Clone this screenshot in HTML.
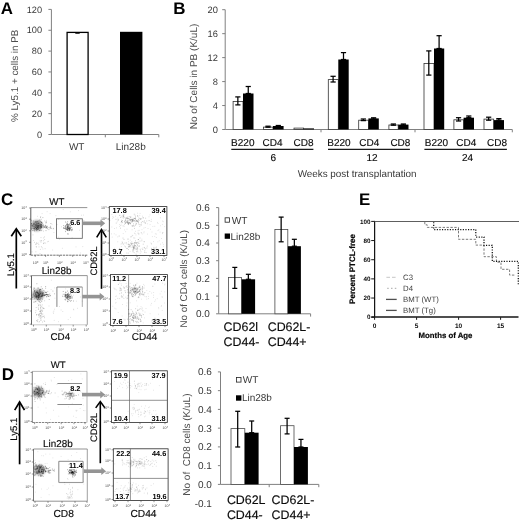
<!DOCTYPE html>
<html lang="en"><head><meta charset="utf-8"><title>Figure</title>
<style>
html,body{margin:0;padding:0;background:#fff;}
body{width:520px;height:520px;overflow:hidden;}
svg{display:block;font-family:"Liberation Sans", Arial, Helvetica, sans-serif;filter:grayscale(1) blur(0.45px);text-rendering:geometricPrecision;}
</style></head><body>
<svg width="520" height="520" viewBox="0 0 520 520">
<defs>
<clipPath id="c1"><rect x="30.8" y="207.6" width="56.5" height="47.6"/></clipPath>
<clipPath id="c2"><rect x="31.5" y="275.6" width="55.8" height="49.2"/></clipPath>
<clipPath id="d1"><rect x="32.3" y="371.4" width="54.7" height="51.1"/></clipPath>
<clipPath id="d2"><rect x="33.5" y="449" width="53.8" height="52.2"/></clipPath>
<filter id="bl0_8" x="-50%" y="-50%" width="200%" height="200%"><feGaussianBlur stdDeviation="0.8"/></filter>
<filter id="bl0_9" x="-50%" y="-50%" width="200%" height="200%"><feGaussianBlur stdDeviation="0.9"/></filter>
<filter id="bl1_0" x="-50%" y="-50%" width="200%" height="200%"><feGaussianBlur stdDeviation="1.0"/></filter>
<filter id="bl1_3" x="-50%" y="-50%" width="200%" height="200%"><feGaussianBlur stdDeviation="1.3"/></filter>
</defs>
<rect width="520" height="520" fill="#fff"/>
<text x="0.8" y="14.4" font-size="16.9" text-anchor="start" font-weight="bold" fill="#000" >A</text>
<line x1="51.4" y1="9.4" x2="51.4" y2="134.5" stroke="#808080" stroke-width="1" />
<line x1="48.4" y1="134.5" x2="51.4" y2="134.5" stroke="#808080" stroke-width="1" />
<text x="42.1" y="138" font-size="9.2" text-anchor="end" font-weight="normal" fill="#383838" >0</text>
<line x1="48.4" y1="113.65" x2="51.4" y2="113.65" stroke="#808080" stroke-width="1" />
<text x="42.1" y="117" font-size="9.2" text-anchor="end" font-weight="normal" fill="#383838" >20</text>
<line x1="48.4" y1="92.8" x2="51.4" y2="92.8" stroke="#808080" stroke-width="1" />
<text x="42.1" y="96" font-size="9.2" text-anchor="end" font-weight="normal" fill="#383838" >40</text>
<line x1="48.4" y1="71.95" x2="51.4" y2="71.95" stroke="#808080" stroke-width="1" />
<text x="42.1" y="75" font-size="9.2" text-anchor="end" font-weight="normal" fill="#383838" >60</text>
<line x1="48.4" y1="51.1" x2="51.4" y2="51.1" stroke="#808080" stroke-width="1" />
<text x="42.1" y="54" font-size="9.2" text-anchor="end" font-weight="normal" fill="#383838" >80</text>
<line x1="48.4" y1="30.25" x2="51.4" y2="30.25" stroke="#808080" stroke-width="1" />
<text x="42.1" y="33" font-size="9.2" text-anchor="end" font-weight="normal" fill="#383838" >100</text>
<line x1="48.4" y1="9.4" x2="51.4" y2="9.4" stroke="#808080" stroke-width="1" />
<text x="42.1" y="13" font-size="9.2" text-anchor="end" font-weight="normal" fill="#383838" >120</text>
<line x1="51.4" y1="134.5" x2="158.8" y2="134.5" stroke="#808080" stroke-width="1" />
<line x1="105.3" y1="134.5" x2="105.3" y2="137.3" stroke="#808080" stroke-width="1" />
<line x1="158.8" y1="134.5" x2="158.8" y2="137.3" stroke="#808080" stroke-width="1" />
<rect x="67.1" y="32.4" width="21" height="102.1" fill="#fff" stroke="#000" stroke-width="1.3" />
<line x1="75.3" y1="33.2" x2="79.7" y2="33.2" stroke="#000" stroke-width="1.1" />
<rect x="120" y="31.8" width="22.4" height="102.7" fill="#000" stroke="none" stroke-width="1" />
<text x="76.7" y="150" font-size="10" text-anchor="middle" font-weight="normal" fill="#383838" >WT</text>
<text x="130.7" y="150" font-size="10" text-anchor="middle" font-weight="normal" fill="#383838" >Lin28b</text>
<text x="18" y="75.8" font-size="9.85" text-anchor="middle" font-weight="normal" fill="#4d4d4d" transform="rotate(-90 18 75.8)" >% Ly5.1 + cells in PB</text>
<text x="173.3" y="14.4" font-size="16.9" text-anchor="start" font-weight="bold" fill="#000" >B</text>
<line x1="225.2" y1="9.7" x2="225.2" y2="129.5" stroke="#808080" stroke-width="1" />
<line x1="222.2" y1="129.5" x2="225.2" y2="129.5" stroke="#808080" stroke-width="1" />
<text x="217.9" y="133" font-size="9.3" text-anchor="end" font-weight="normal" fill="#383838" >0</text>
<line x1="222.2" y1="105.54" x2="225.2" y2="105.54" stroke="#808080" stroke-width="1" />
<text x="217.9" y="109" font-size="9.3" text-anchor="end" font-weight="normal" fill="#383838" >4</text>
<line x1="222.2" y1="81.58" x2="225.2" y2="81.58" stroke="#808080" stroke-width="1" />
<text x="217.9" y="85" font-size="9.3" text-anchor="end" font-weight="normal" fill="#383838" >8</text>
<line x1="222.2" y1="57.62" x2="225.2" y2="57.62" stroke="#808080" stroke-width="1" />
<text x="217.9" y="61" font-size="9.3" text-anchor="end" font-weight="normal" fill="#383838" >12</text>
<line x1="222.2" y1="33.66" x2="225.2" y2="33.66" stroke="#808080" stroke-width="1" />
<text x="217.9" y="37" font-size="9.3" text-anchor="end" font-weight="normal" fill="#383838" >16</text>
<line x1="222.2" y1="9.7" x2="225.2" y2="9.7" stroke="#808080" stroke-width="1" />
<text x="217.9" y="13" font-size="9.3" text-anchor="end" font-weight="normal" fill="#383838" >20</text>
<line x1="225.2" y1="129.5" x2="512.3" y2="129.5" stroke="#808080" stroke-width="1" />
<line x1="321" y1="129.5" x2="321" y2="132.3" stroke="#808080" stroke-width="1" />
<line x1="415" y1="129.5" x2="415" y2="132.3" stroke="#808080" stroke-width="1" />
<line x1="512.3" y1="129.5" x2="512.3" y2="132.3" stroke="#808080" stroke-width="1" />
<text x="197" y="76.5" font-size="10" text-anchor="middle" font-weight="normal" fill="#4d4d4d" transform="rotate(-90 197 76.5)" >No of Cells in PB (K/uL)</text>
<rect x="233.1" y="101.4" width="9.9" height="28.1" fill="#fff" stroke="#333" stroke-width="0.8" />
<rect x="243" y="93.5" width="10.5" height="36" fill="#000" stroke="none" stroke-width="1" />
<line x1="237.85" y1="96.9" x2="237.85" y2="104.9" stroke="#000" stroke-width="1.25" />
<line x1="235.25" y1="96.9" x2="240.45" y2="96.9" stroke="#000" stroke-width="1.25" />
<line x1="235.25" y1="104.9" x2="240.45" y2="104.9" stroke="#000" stroke-width="1.25" />
<line x1="248.25" y1="86.5" x2="248.25" y2="93.5" stroke="#000" stroke-width="1.25" />
<line x1="245.65" y1="86.5" x2="250.85" y2="86.5" stroke="#000" stroke-width="1.25" />
<line x1="245.65" y1="93.5" x2="250.85" y2="93.5" stroke="#000" stroke-width="1.25" />
<rect x="263.4" y="127.1" width="9.6" height="2.4" fill="#fff" stroke="#333" stroke-width="0.8" />
<rect x="273" y="126" width="10.6" height="3.5" fill="#000" stroke="none" stroke-width="1" />
<line x1="268" y1="126.2" x2="268" y2="127.2" stroke="#000" stroke-width="1.25" />
<line x1="265.4" y1="126.2" x2="270.6" y2="126.2" stroke="#000" stroke-width="1.25" />
<line x1="265.4" y1="127.2" x2="270.6" y2="127.2" stroke="#000" stroke-width="1.25" />
<line x1="278.3" y1="125.5" x2="278.3" y2="126.5" stroke="#000" stroke-width="1.25" />
<line x1="275.7" y1="125.5" x2="280.9" y2="125.5" stroke="#000" stroke-width="1.25" />
<line x1="275.7" y1="126.5" x2="280.9" y2="126.5" stroke="#000" stroke-width="1.25" />
<rect x="294" y="128.1" width="9.6" height="1.4" fill="#fff" stroke="#333" stroke-width="0.8" />
<rect x="303.6" y="128.4" width="10.4" height="1.1" fill="#000" stroke="none" stroke-width="1" />
<rect x="328.3" y="79.6" width="10" height="49.9" fill="#fff" stroke="#333" stroke-width="0.8" />
<rect x="338.3" y="59.5" width="10.4" height="70" fill="#000" stroke="none" stroke-width="1" />
<line x1="333.1" y1="76.3" x2="333.1" y2="82" stroke="#000" stroke-width="1.25" />
<line x1="330.5" y1="76.3" x2="335.7" y2="76.3" stroke="#000" stroke-width="1.25" />
<line x1="330.5" y1="82" x2="335.7" y2="82" stroke="#000" stroke-width="1.25" />
<line x1="343.5" y1="52.6" x2="343.5" y2="59.5" stroke="#000" stroke-width="1.25" />
<line x1="340.9" y1="52.6" x2="346.1" y2="52.6" stroke="#000" stroke-width="1.25" />
<line x1="340.9" y1="59.5" x2="346.1" y2="59.5" stroke="#000" stroke-width="1.25" />
<rect x="358.7" y="120.2" width="9.7" height="9.3" fill="#fff" stroke="#333" stroke-width="0.8" />
<rect x="368.4" y="118.4" width="10.4" height="11.1" fill="#000" stroke="none" stroke-width="1" />
<line x1="363.35" y1="119" x2="363.35" y2="120.6" stroke="#000" stroke-width="1.25" />
<line x1="360.75" y1="119" x2="365.95" y2="119" stroke="#000" stroke-width="1.25" />
<line x1="360.75" y1="120.6" x2="365.95" y2="120.6" stroke="#000" stroke-width="1.25" />
<line x1="373.6" y1="117.8" x2="373.6" y2="119" stroke="#000" stroke-width="1.25" />
<line x1="371" y1="117.8" x2="376.2" y2="117.8" stroke="#000" stroke-width="1.25" />
<line x1="371" y1="119" x2="376.2" y2="119" stroke="#000" stroke-width="1.25" />
<rect x="388.9" y="125" width="9.3" height="4.5" fill="#fff" stroke="#333" stroke-width="0.8" />
<rect x="398.2" y="124.6" width="10.3" height="4.9" fill="#000" stroke="none" stroke-width="1" />
<line x1="393.35" y1="124" x2="393.35" y2="125.2" stroke="#000" stroke-width="1.25" />
<line x1="390.75" y1="124" x2="395.95" y2="124" stroke="#000" stroke-width="1.25" />
<line x1="390.75" y1="125.2" x2="395.95" y2="125.2" stroke="#000" stroke-width="1.25" />
<line x1="403.35" y1="124" x2="403.35" y2="125" stroke="#000" stroke-width="1.25" />
<line x1="400.75" y1="124" x2="405.95" y2="124" stroke="#000" stroke-width="1.25" />
<line x1="400.75" y1="125" x2="405.95" y2="125" stroke="#000" stroke-width="1.25" />
<rect x="424" y="63.4" width="10" height="66.1" fill="#fff" stroke="#333" stroke-width="0.8" />
<rect x="434" y="48.5" width="10.2" height="81" fill="#000" stroke="none" stroke-width="1" />
<line x1="428.8" y1="50.9" x2="428.8" y2="75.1" stroke="#000" stroke-width="1.25" />
<line x1="426.2" y1="50.9" x2="431.4" y2="50.9" stroke="#000" stroke-width="1.25" />
<line x1="426.2" y1="75.1" x2="431.4" y2="75.1" stroke="#000" stroke-width="1.25" />
<line x1="439.1" y1="35.7" x2="439.1" y2="48.5" stroke="#000" stroke-width="1.25" />
<line x1="436.5" y1="35.7" x2="441.7" y2="35.7" stroke="#000" stroke-width="1.25" />
<line x1="436.5" y1="48.5" x2="441.7" y2="48.5" stroke="#000" stroke-width="1.25" />
<rect x="453.9" y="119.8" width="9.7" height="9.7" fill="#fff" stroke="#333" stroke-width="0.8" />
<rect x="463.6" y="117.7" width="10.4" height="11.8" fill="#000" stroke="none" stroke-width="1" />
<line x1="458.55" y1="117.7" x2="458.55" y2="121" stroke="#000" stroke-width="1.25" />
<line x1="455.95" y1="117.7" x2="461.15" y2="117.7" stroke="#000" stroke-width="1.25" />
<line x1="455.95" y1="121" x2="461.15" y2="121" stroke="#000" stroke-width="1.25" />
<line x1="468.8" y1="116" x2="468.8" y2="117.7" stroke="#000" stroke-width="1.25" />
<line x1="466.2" y1="116" x2="471.4" y2="116" stroke="#000" stroke-width="1.25" />
<line x1="466.2" y1="117.7" x2="471.4" y2="117.7" stroke="#000" stroke-width="1.25" />
<rect x="484" y="119.1" width="9.7" height="10.4" fill="#fff" stroke="#333" stroke-width="0.8" />
<rect x="493.7" y="120.1" width="10.3" height="9.4" fill="#000" stroke="none" stroke-width="1" />
<line x1="488.65" y1="117.2" x2="488.65" y2="120.2" stroke="#000" stroke-width="1.25" />
<line x1="486.05" y1="117.2" x2="491.25" y2="117.2" stroke="#000" stroke-width="1.25" />
<line x1="486.05" y1="120.2" x2="491.25" y2="120.2" stroke="#000" stroke-width="1.25" />
<line x1="498.85" y1="118.6" x2="498.85" y2="120.1" stroke="#000" stroke-width="1.25" />
<line x1="496.25" y1="118.6" x2="501.45" y2="118.6" stroke="#000" stroke-width="1.25" />
<line x1="496.25" y1="120.1" x2="501.45" y2="120.1" stroke="#000" stroke-width="1.25" />
<text x="242.8" y="146" font-size="10" text-anchor="middle" font-weight="normal" fill="#0a0a0a" stroke="#111" stroke-width="0.16">B220</text>
<text x="272.6" y="146" font-size="10" text-anchor="middle" font-weight="normal" fill="#0a0a0a" stroke="#111" stroke-width="0.16">CD4</text>
<text x="303.6" y="146" font-size="10" text-anchor="middle" font-weight="normal" fill="#0a0a0a" stroke="#111" stroke-width="0.16">CD8</text>
<text x="339" y="146" font-size="10" text-anchor="middle" font-weight="normal" fill="#0a0a0a" stroke="#111" stroke-width="0.16">B220</text>
<text x="369.3" y="146" font-size="10" text-anchor="middle" font-weight="normal" fill="#0a0a0a" stroke="#111" stroke-width="0.16">CD4</text>
<text x="400.4" y="146" font-size="10" text-anchor="middle" font-weight="normal" fill="#0a0a0a" stroke="#111" stroke-width="0.16">CD8</text>
<text x="436.4" y="146" font-size="10" text-anchor="middle" font-weight="normal" fill="#0a0a0a" stroke="#111" stroke-width="0.16">B220</text>
<text x="466.3" y="146" font-size="10" text-anchor="middle" font-weight="normal" fill="#0a0a0a" stroke="#111" stroke-width="0.16">CD4</text>
<text x="497" y="146" font-size="10" text-anchor="middle" font-weight="normal" fill="#0a0a0a" stroke="#111" stroke-width="0.16">CD8</text>
<line x1="231.3" y1="149.3" x2="313.4" y2="149.3" stroke="#1a1a1a" stroke-width="1.2" />
<line x1="328" y1="149.3" x2="409.9" y2="149.3" stroke="#1a1a1a" stroke-width="1.2" />
<line x1="424.4" y1="149.3" x2="506.9" y2="149.3" stroke="#1a1a1a" stroke-width="1.2" />
<text x="273.4" y="161" font-size="10" text-anchor="middle" font-weight="normal" fill="#0a0a0a" stroke="#111" stroke-width="0.16">6</text>
<text x="372" y="161" font-size="10" text-anchor="middle" font-weight="normal" fill="#0a0a0a" stroke="#111" stroke-width="0.16">12</text>
<text x="467.5" y="161" font-size="10" text-anchor="middle" font-weight="normal" fill="#0a0a0a" stroke="#111" stroke-width="0.16">24</text>
<text x="357.1" y="177" font-size="9.9" text-anchor="middle" font-weight="normal" fill="#383838" >Weeks post transplantation</text>
<text x="1" y="204.7" font-size="16.9" text-anchor="start" font-weight="bold" fill="#000" >C</text>
<text x="56.8" y="205" font-size="9.7" text-anchor="middle" font-weight="normal" fill="#0a0a0a" stroke="#111" stroke-width="0.16">WT</text>
<line x1="30.8" y1="207.6" x2="87.3" y2="207.6" stroke="#666" stroke-width="0.7" />
<line x1="30.8" y1="207.6" x2="30.8" y2="255.2" stroke="#484848" stroke-width="0.9" />
<line x1="30.8" y1="255.2" x2="87.3" y2="255.2" stroke="#5a5a5a" stroke-width="0.85" stroke-dasharray="2.4 0.8"/>
<text x="26.8" y="209.2" font-size="3.6" text-anchor="end" fill="#4a4a4a">10<tspan dy="-1.2" font-size="2.8">4</tspan></text>
<line x1="29.1" y1="208" x2="30.8" y2="208" stroke="#4a4a4a" stroke-width="0.6" />
<text x="26.8" y="220.4" font-size="3.6" text-anchor="end" fill="#4a4a4a">10<tspan dy="-1.2" font-size="2.8">3</tspan></text>
<line x1="29.1" y1="219.2" x2="30.8" y2="219.2" stroke="#4a4a4a" stroke-width="0.6" />
<text x="26.8" y="232" font-size="3.6" text-anchor="end" fill="#4a4a4a">10<tspan dy="-1.2" font-size="2.8">2</tspan></text>
<line x1="29.1" y1="230.8" x2="30.8" y2="230.8" stroke="#4a4a4a" stroke-width="0.6" />
<text x="26.8" y="243.5" font-size="3.6" text-anchor="end" fill="#4a4a4a">10<tspan dy="-1.2" font-size="2.8">1</tspan></text>
<line x1="29.1" y1="242.3" x2="30.8" y2="242.3" stroke="#4a4a4a" stroke-width="0.6" />
<text x="26.8" y="255.8" font-size="3.6" text-anchor="end" fill="#4a4a4a">10<tspan dy="-1.2" font-size="2.8">0</tspan></text>
<line x1="29.1" y1="254.6" x2="30.8" y2="254.6" stroke="#4a4a4a" stroke-width="0.6" />
<text x="35.5" y="264.4" font-size="3.6" text-anchor="middle" fill="#4a4a4a">10<tspan dy="-1.2" font-size="2.8">0</tspan></text>
<line x1="35.2" y1="255.2" x2="35.2" y2="256.9" stroke="#4a4a4a" stroke-width="0.6" />
<text x="45.9" y="264.4" font-size="3.6" text-anchor="middle" fill="#4a4a4a">10<tspan dy="-1.2" font-size="2.8">1</tspan></text>
<line x1="45.6" y1="255.2" x2="45.6" y2="256.9" stroke="#4a4a4a" stroke-width="0.6" />
<text x="59.7" y="264.4" font-size="3.6" text-anchor="middle" fill="#4a4a4a">10<tspan dy="-1.2" font-size="2.8">2</tspan></text>
<line x1="59.4" y1="255.2" x2="59.4" y2="256.9" stroke="#4a4a4a" stroke-width="0.6" />
<text x="73" y="264.4" font-size="3.6" text-anchor="middle" fill="#4a4a4a">10<tspan dy="-1.2" font-size="2.8">3</tspan></text>
<line x1="72.7" y1="255.2" x2="72.7" y2="256.9" stroke="#4a4a4a" stroke-width="0.6" />
<text x="85.7" y="264.4" font-size="3.6" text-anchor="middle" fill="#4a4a4a">10<tspan dy="-1.2" font-size="2.8">4</tspan></text>
<line x1="85.4" y1="255.2" x2="85.4" y2="256.9" stroke="#4a4a4a" stroke-width="0.6" />
<rect x="56.5" y="218.8" width="25.8" height="19.5" fill="none" stroke="#5a5a5a" stroke-width="0.8" />
<g clip-path="url(#c1)"><ellipse cx="36.8" cy="225.6" rx="5.8" ry="5.6" fill="#000" fill-opacity="0.37" filter="url(#bl1_3)"/></g>
<path d="M36.0 227.2h0M33.7 224.9h0M40.2 226.4h0M31.3 228.3h0M31.2 220.2h0M37.8 225.5h0M37.8 226.8h0M38.6 229.3h0M35.7 225.3h0M35.3 222.6h0M34.1 226.4h0M37.0 229.6h0M38.4 225.4h0M39.0 228.5h0M37.2 221.6h0M35.3 221.7h0M41.1 219.3h0M41.6 227.4h0M33.1 228.6h0M37.6 226.9h0M38.5 227.3h0M40.0 227.2h0M36.2 228.8h0M38.6 225.1h0M37.2 229.2h0M40.2 225.7h0M41.6 224.2h0M36.3 224.7h0M41.0 221.7h0M40.5 228.3h0M37.3 227.4h0M38.7 225.6h0M43.4 226.6h0M36.8 228.5h0M42.9 217.6h0M38.1 226.3h0M37.7 224.0h0M35.0 225.3h0M40.1 222.0h0M39.6 230.2h0M40.4 217.3h0M39.1 221.0h0M36.3 226.2h0M36.5 230.4h0M45.9 222.0h0M37.2 227.8h0M31.8 220.9h0M33.4 221.0h0M41.7 222.7h0M39.3 230.5h0M40.1 225.0h0M38.1 226.9h0M40.5 230.2h0M34.3 228.8h0M41.5 224.8h0M36.8 228.2h0M36.6 228.8h0M34.6 228.3h0M36.2 225.5h0M42.7 225.7h0M36.1 221.7h0M31.4 223.7h0M36.8 228.1h0M31.6 223.6h0M33.8 223.2h0" stroke="#000" stroke-opacity="0.32" stroke-width="1.00" stroke-linecap="round" fill="none"/>
<path d="M36.1 224.6h0M40.5 226.9h0M38.1 226.2h0M38.5 227.1h0M33.9 224.1h0M38.5 223.6h0M34.6 230.9h0M34.8 223.3h0M38.9 226.4h0M35.1 229.4h0M38.2 221.0h0M36.4 223.1h0M32.0 228.2h0M41.6 226.7h0M38.8 223.7h0M33.6 224.0h0M32.0 226.3h0M38.0 223.3h0M40.4 226.1h0M42.1 227.5h0M31.6 229.6h0M39.6 220.0h0M32.5 230.6h0M37.9 227.6h0M34.6 224.3h0M33.9 228.5h0M32.2 225.2h0M41.4 222.4h0M34.2 227.6h0M37.9 226.0h0M36.2 226.5h0M39.3 227.4h0M35.4 224.4h0M35.7 226.8h0M33.1 226.4h0M35.4 227.6h0M44.8 226.7h0M36.1 225.4h0M36.6 228.6h0M35.7 227.5h0M40.4 221.1h0M37.4 229.3h0M39.4 226.0h0M40.3 224.7h0M39.8 224.8h0M37.5 227.6h0M38.8 222.6h0M41.0 227.9h0M36.8 222.1h0M33.9 230.4h0M36.5 223.7h0M41.7 222.4h0M41.6 225.0h0M37.2 226.0h0M37.8 223.7h0M37.1 229.7h0M41.7 230.6h0M32.7 225.6h0M34.8 226.3h0M38.6 228.7h0M35.0 228.9h0M40.1 228.1h0M37.3 221.9h0M39.8 223.8h0M31.7 225.2h0" stroke="#000" stroke-opacity="0.32" stroke-width="1.00" stroke-linecap="round" fill="none"/>
<path d="M40.6 227.1h0M42.4 223.2h0M37.1 225.0h0M47.1 227.8h0M48.9 227.6h0M47.5 228.7h0M50.9 223.5h0M41.4 227.7h0M46.4 228.0h0M45.5 227.9h0M41.1 225.9h0M41.7 225.1h0M46.6 222.1h0M50.1 227.2h0M38.1 228.3h0M48.9 229.6h0M45.5 226.8h0M51.5 228.3h0M50.1 228.2h0M41.6 226.9h0M44.3 227.4h0M46.0 227.1h0M43.4 227.8h0" stroke="#000" stroke-opacity="0.35" stroke-width="0.90" stroke-linecap="round" fill="none"/>
<path d="M36.7 227.1h0M46.9 226.0h0M45.5 225.7h0M46.7 227.1h0M46.0 223.0h0M43.5 225.7h0M46.0 230.6h0M50.7 226.3h0M41.5 226.3h0M44.4 226.2h0M47.4 226.7h0M53.3 228.4h0M46.6 227.3h0M44.3 227.4h0M45.6 225.3h0M39.9 225.4h0M43.2 224.8h0M40.6 224.2h0M50.5 227.9h0M37.4 225.2h0M42.1 226.3h0M46.6 226.9h0" stroke="#000" stroke-opacity="0.35" stroke-width="0.90" stroke-linecap="round" fill="none"/>
<g><ellipse cx="68.1" cy="228" rx="2" ry="1.8" fill="#000" fill-opacity="0.38" filter="url(#bl0_9)"/></g>
<path d="M68.2 226.1h0M67.8 228.4h0M67.8 225.1h0M69.1 227.6h0M63.5 228.1h0M65.5 222.0h0M67.2 224.9h0M69.3 228.4h0M68.0 229.4h0M70.6 225.5h0M67.4 230.5h0M67.6 233.9h0M68.3 234.0h0M70.5 228.0h0M69.0 230.6h0M70.1 229.2h0M67.5 229.6h0M68.1 224.6h0M66.5 229.3h0M67.5 224.7h0M70.7 226.0h0M70.0 230.2h0M69.6 223.9h0M66.6 224.8h0M69.6 229.6h0M65.0 226.8h0M67.9 228.0h0M65.1 227.9h0M67.9 226.3h0M67.9 226.5h0M65.7 228.1h0M68.5 224.8h0M69.2 229.4h0M67.8 227.8h0M66.4 224.9h0" stroke="#000" stroke-opacity="0.42" stroke-width="0.90" stroke-linecap="round" fill="none"/>
<path d="M66.6 228.0h0M68.1 228.4h0M69.1 230.4h0M69.2 225.8h0M65.9 229.7h0M65.6 231.6h0M66.3 229.2h0M71.7 229.6h0M72.1 230.2h0M67.7 229.7h0M69.5 230.1h0M71.1 227.5h0M67.3 230.0h0M65.3 228.4h0M70.0 228.1h0M68.6 228.1h0M65.6 226.6h0M67.1 223.4h0M69.5 227.9h0M72.5 229.2h0M67.7 223.8h0M63.5 227.9h0M63.7 225.6h0M68.2 228.6h0M71.7 230.7h0M65.6 225.5h0M69.3 224.4h0M67.6 227.3h0M69.8 228.8h0M67.7 221.7h0M64.5 228.5h0M67.5 227.3h0M68.0 226.0h0M69.9 228.7h0M67.2 226.3h0" stroke="#000" stroke-opacity="0.42" stroke-width="0.90" stroke-linecap="round" fill="none"/>
<path d="M34.6 242.4h0M41.1 240.9h0M43.4 243.6h0M36.0 244.2h0M40.3 249.4h0M41.0 242.2h0M43.7 237.9h0M38.1 243.1h0M35.8 244.3h0M35.9 251.8h0M40.1 240.9h0M41.7 240.6h0M44.3 242.9h0M38.8 244.6h0M36.9 254.4h0M36.4 242.8h0M44.5 236.9h0M43.7 240.7h0" stroke="#000" stroke-opacity="0.22" stroke-width="0.84" stroke-linecap="round" fill="none"/>
<path d="M37.0 243.5h0M48.3 241.4h0M43.5 231.1h0M41.4 254.7h0M42.1 247.7h0M41.0 237.6h0M40.0 253.6h0M43.7 243.1h0M41.3 246.6h0M45.7 243.1h0M44.7 239.5h0M36.2 246.6h0M36.3 247.1h0M45.1 248.7h0M39.0 246.9h0M32.0 251.9h0M33.0 234.9h0" stroke="#000" stroke-opacity="0.22" stroke-width="0.84" stroke-linecap="round" fill="none"/>
<path d="M70.3 211.8h0M71.0 229.3h0M72.1 237.7h0M47.1 211.7h0M81.4 215.2h0M57.1 224.6h0M47.7 241.8h0M84.0 220.9h0M66.9 222.7h0M61.6 226.8h0M40.8 216.6h0M42.9 249.1h0M58.4 219.2h0M80.3 253.0h0M55.9 215.7h0M42.1 213.6h0M50.1 213.6h0M44.6 220.9h0M62.3 248.3h0M71.9 227.6h0M53.9 232.5h0M52.0 224.3h0M35.1 221.7h0M83.6 215.1h0M58.7 237.1h0M78.0 219.0h0M46.3 220.4h0M53.2 229.0h0M82.8 246.6h0M78.5 210.6h0M33.5 240.5h0M79.7 230.2h0M63.2 209.6h0M52.7 250.0h0M76.0 246.9h0M83.8 220.4h0M37.6 216.3h0M59.7 239.3h0" stroke="#000" stroke-opacity="0.18" stroke-width="0.80" stroke-linecap="round" fill="none"/>
<text x="70.2" y="225" font-size="7.3" text-anchor="start" font-weight="bold" fill="#000" >6.6</text>
<text x="56.6" y="274" font-size="9.9" text-anchor="middle" font-weight="normal" fill="#0a0a0a" stroke="#111" stroke-width="0.16">Lin28b</text>
<line x1="31.5" y1="275.6" x2="87.3" y2="275.6" stroke="#666" stroke-width="0.7" />
<line x1="31.5" y1="275.6" x2="31.5" y2="324.8" stroke="#555" stroke-width="0.9" />
<line x1="87.3" y1="275.6" x2="87.3" y2="324.8" stroke="#777" stroke-width="0.7" />
<line x1="31.5" y1="324.8" x2="87.3" y2="324.8" stroke="#b5b5b5" stroke-width="0.7" />
<text x="28.8" y="277.2" font-size="3.6" text-anchor="end" fill="#4a4a4a">10<tspan dy="-1.2" font-size="2.8">4</tspan></text>
<line x1="29.8" y1="276" x2="31.5" y2="276" stroke="#4a4a4a" stroke-width="0.6" />
<text x="28.8" y="288.2" font-size="3.6" text-anchor="end" fill="#4a4a4a">10<tspan dy="-1.2" font-size="2.8">3</tspan></text>
<line x1="29.8" y1="287" x2="31.5" y2="287" stroke="#4a4a4a" stroke-width="0.6" />
<text x="28.8" y="300.2" font-size="3.6" text-anchor="end" fill="#4a4a4a">10<tspan dy="-1.2" font-size="2.8">2</tspan></text>
<line x1="29.8" y1="299" x2="31.5" y2="299" stroke="#4a4a4a" stroke-width="0.6" />
<text x="28.8" y="312.2" font-size="3.6" text-anchor="end" fill="#4a4a4a">10<tspan dy="-1.2" font-size="2.8">1</tspan></text>
<line x1="29.8" y1="311" x2="31.5" y2="311" stroke="#4a4a4a" stroke-width="0.6" />
<text x="28.8" y="325.4" font-size="3.6" text-anchor="end" fill="#4a4a4a">10<tspan dy="-1.2" font-size="2.8">0</tspan></text>
<line x1="29.8" y1="324.2" x2="31.5" y2="324.2" stroke="#4a4a4a" stroke-width="0.6" />
<text x="33.8" y="331.4" font-size="3.6" text-anchor="middle" fill="#4a4a4a">10<tspan dy="-1.2" font-size="2.8">0</tspan></text>
<line x1="33.5" y1="324.8" x2="33.5" y2="326.5" stroke="#4a4a4a" stroke-width="0.6" />
<text x="46.6" y="331.4" font-size="3.6" text-anchor="middle" fill="#4a4a4a">10<tspan dy="-1.2" font-size="2.8">1</tspan></text>
<line x1="46.3" y1="324.8" x2="46.3" y2="326.5" stroke="#4a4a4a" stroke-width="0.6" />
<text x="61" y="331.4" font-size="3.6" text-anchor="middle" fill="#4a4a4a">10<tspan dy="-1.2" font-size="2.8">2</tspan></text>
<line x1="60.7" y1="324.8" x2="60.7" y2="326.5" stroke="#4a4a4a" stroke-width="0.6" />
<text x="73.5" y="331.4" font-size="3.6" text-anchor="middle" fill="#4a4a4a">10<tspan dy="-1.2" font-size="2.8">3</tspan></text>
<line x1="73.2" y1="324.8" x2="73.2" y2="326.5" stroke="#4a4a4a" stroke-width="0.6" />
<text x="86.5" y="331.4" font-size="3.6" text-anchor="middle" fill="#4a4a4a">10<tspan dy="-1.2" font-size="2.8">4</tspan></text>
<line x1="86.2" y1="324.8" x2="86.2" y2="326.5" stroke="#4a4a4a" stroke-width="0.6" />
<polyline points="56.9,306.9 56.9,287 82.3,287" fill="none" stroke="#666" stroke-width="0.8" />
<line x1="82.3" y1="287" x2="82.3" y2="306.9" stroke="#999" stroke-width="0.8" />
<g clip-path="url(#c2)"><ellipse cx="38.2" cy="294.4" rx="6" ry="5.5" fill="#000" fill-opacity="0.37" filter="url(#bl1_3)"/></g>
<path d="M43.3 292.6h0M34.0 295.4h0M39.0 301.3h0M40.0 296.1h0M39.2 295.2h0M36.4 295.8h0M37.0 297.7h0M41.1 292.1h0M43.3 293.2h0M33.1 294.4h0M34.4 288.3h0M36.3 297.2h0M39.8 289.5h0M41.1 293.9h0M39.2 299.6h0M36.0 294.5h0M34.0 287.9h0M40.3 302.6h0M41.4 295.5h0M36.9 283.7h0M41.3 301.1h0M36.5 291.8h0M38.3 294.6h0M39.9 294.0h0M34.3 298.9h0M41.9 295.5h0M39.3 297.2h0M32.9 297.4h0M39.4 294.6h0M38.1 287.8h0M42.7 293.3h0M37.1 296.7h0M42.4 292.2h0M38.6 297.9h0M36.2 295.9h0M40.1 293.5h0M40.8 289.6h0M36.8 297.1h0M40.0 299.3h0M42.4 295.2h0M45.7 288.2h0M41.5 296.5h0M38.6 297.6h0M38.1 288.4h0M39.7 292.2h0M38.0 292.3h0M42.2 299.7h0M35.7 294.3h0M39.8 294.3h0M42.3 288.6h0M39.8 295.8h0M41.2 293.1h0M37.8 299.8h0M34.3 292.0h0M39.6 296.0h0M36.9 292.7h0M37.3 292.6h0M39.4 290.7h0M34.8 296.8h0M40.9 298.5h0M35.2 301.6h0M36.0 296.9h0M36.7 296.0h0M45.5 294.6h0M32.3 298.0h0M42.5 294.8h0M42.2 296.7h0M39.9 296.4h0M41.2 286.8h0" stroke="#000" stroke-opacity="0.32" stroke-width="1.00" stroke-linecap="round" fill="none"/>
<path d="M34.7 290.2h0M44.0 295.7h0M36.4 292.3h0M34.7 290.8h0M33.8 293.8h0M37.8 294.1h0M42.9 293.3h0M38.4 296.7h0M37.9 295.0h0M35.9 295.6h0M38.3 295.2h0M37.3 292.5h0M35.9 294.3h0M39.2 292.4h0M35.9 301.7h0M38.8 297.6h0M40.3 296.9h0M38.9 295.2h0M43.9 290.6h0M41.0 293.2h0M38.2 293.6h0M36.1 296.4h0M37.6 297.2h0M40.5 293.9h0M39.8 291.4h0M32.9 299.4h0M38.9 293.9h0M38.3 293.5h0M40.5 293.2h0M36.8 296.5h0M37.8 299.3h0M43.9 294.5h0M38.9 294.2h0M46.3 292.3h0M34.6 295.9h0M40.0 289.6h0M35.8 292.7h0M38.5 293.2h0M38.2 295.5h0M33.8 302.1h0M38.1 295.7h0M37.3 291.1h0M34.5 291.2h0M37.3 293.0h0M35.2 293.2h0M38.2 296.7h0M35.5 293.1h0M40.0 290.2h0M32.0 295.3h0M40.9 295.0h0M42.6 293.7h0M40.7 291.9h0M39.7 293.9h0M38.9 297.3h0M38.1 298.6h0M41.2 294.6h0M37.3 296.3h0M39.6 295.0h0M37.2 293.4h0M35.9 295.8h0M36.5 298.1h0M45.7 286.5h0M37.9 292.3h0M32.6 297.0h0M36.2 294.8h0M33.5 289.1h0M35.4 297.1h0M41.3 296.7h0M38.8 295.9h0" stroke="#000" stroke-opacity="0.32" stroke-width="1.00" stroke-linecap="round" fill="none"/>
<path d="M54.4 293.8h0M48.9 294.6h0M46.9 294.5h0M40.7 297.0h0M46.7 296.9h0M47.8 296.1h0M50.1 295.8h0M46.9 294.6h0M44.0 294.3h0M41.7 296.4h0M50.5 295.6h0M46.5 292.5h0M44.5 295.4h0M49.0 296.2h0M45.1 294.8h0M44.9 295.3h0M47.7 295.0h0M45.3 292.4h0M37.7 295.5h0M47.8 291.7h0M46.1 294.4h0M46.7 294.5h0M46.7 296.5h0" stroke="#000" stroke-opacity="0.33" stroke-width="0.90" stroke-linecap="round" fill="none"/>
<path d="M44.9 295.4h0M49.8 294.0h0M46.5 294.2h0M47.0 294.4h0M42.8 295.1h0M44.9 291.9h0M46.0 294.9h0M42.6 294.1h0M42.2 296.3h0M42.7 295.9h0M43.6 295.4h0M44.0 295.6h0M48.4 296.5h0M45.0 295.3h0M45.4 292.5h0M42.8 295.3h0M52.9 291.1h0M49.2 299.5h0M47.7 294.8h0M48.8 295.9h0M48.1 294.5h0M38.6 295.2h0" stroke="#000" stroke-opacity="0.33" stroke-width="0.90" stroke-linecap="round" fill="none"/>
<g><ellipse cx="67.6" cy="296.6" rx="2" ry="1.8" fill="#000" fill-opacity="0.36" filter="url(#bl0_9)"/></g>
<path d="M65.5 296.5h0M70.6 301.2h0M69.7 300.1h0M66.1 295.0h0M63.2 294.3h0M66.0 294.9h0M70.7 296.4h0M66.2 297.1h0M68.4 295.0h0M64.6 294.9h0M68.9 296.9h0M62.5 296.2h0M67.3 296.2h0M69.4 297.9h0M66.2 295.8h0M71.3 300.6h0M70.4 298.5h0M66.1 297.6h0M65.5 295.8h0M71.2 295.2h0M70.4 297.4h0M71.5 298.0h0M68.8 296.1h0M64.2 296.5h0M66.9 298.4h0M68.4 293.0h0M67.5 294.0h0M67.8 297.7h0M65.6 299.9h0M67.1 294.8h0M68.3 293.9h0M69.2 296.3h0M67.5 298.3h0M67.5 294.6h0M68.0 301.6h0" stroke="#000" stroke-opacity="0.4" stroke-width="0.90" stroke-linecap="round" fill="none"/>
<path d="M69.1 296.9h0M65.4 292.2h0M69.8 298.5h0M69.7 294.5h0M73.6 301.0h0M68.2 294.9h0M65.0 299.6h0M67.6 295.9h0M63.2 291.5h0M67.5 296.7h0M65.7 295.0h0M68.8 297.8h0M69.8 296.6h0M68.1 299.6h0M65.7 294.8h0M67.7 297.9h0M70.5 293.7h0M71.0 296.8h0M66.0 294.6h0M67.6 301.6h0M66.1 297.5h0M70.6 296.8h0M68.6 299.6h0M68.2 295.3h0M72.4 298.0h0M72.2 296.8h0M67.5 294.1h0M67.7 297.2h0M66.0 292.4h0M65.2 295.8h0M67.3 299.9h0M67.9 296.3h0M67.4 291.1h0M69.2 295.2h0M65.1 294.0h0" stroke="#000" stroke-opacity="0.4" stroke-width="0.90" stroke-linecap="round" fill="none"/>
<path d="M36.8 292.0h0M38.5 296.0h0M38.2 307.2h0M44.5 317.7h0M44.1 320.7h0M40.7 310.4h0M38.8 298.4h0M37.2 320.5h0M44.2 316.1h0M41.2 313.2h0M42.4 298.8h0M38.7 305.5h0M40.1 304.9h0M41.8 310.8h0M38.6 314.9h0M41.9 301.6h0M36.4 315.0h0M38.4 308.8h0M40.6 305.9h0M40.5 289.4h0M35.9 310.7h0M37.5 321.6h0M39.2 301.6h0M43.5 316.4h0M38.5 304.9h0M40.8 308.0h0M40.5 315.6h0M36.5 320.7h0M36.2 307.5h0M38.8 315.4h0M38.0 299.5h0M40.4 300.2h0M41.3 306.3h0M38.7 296.2h0M40.0 316.7h0M39.3 314.3h0M44.7 321.5h0M44.1 308.6h0M41.1 320.1h0M39.5 311.3h0" stroke="#000" stroke-opacity="0.26" stroke-width="0.84" stroke-linecap="round" fill="none"/>
<path d="M35.7 312.7h0M36.6 314.6h0M40.8 320.2h0M40.3 311.4h0M39.3 313.4h0M38.8 300.1h0M42.8 314.0h0M42.1 295.7h0M44.7 300.8h0M40.5 311.3h0M37.1 299.5h0M40.8 312.0h0M39.0 317.1h0M39.3 321.6h0M42.7 308.0h0M42.3 311.5h0M37.9 319.6h0M40.7 307.5h0M41.5 310.0h0M42.7 310.2h0M41.1 318.0h0M39.7 315.1h0M42.5 316.8h0M38.7 297.5h0M38.1 314.4h0M40.4 308.9h0M42.2 304.9h0M40.3 318.3h0M40.1 299.2h0M42.5 322.0h0M41.2 317.1h0M41.8 315.9h0M40.7 315.9h0M40.8 313.6h0M38.7 309.4h0M43.7 308.1h0M41.8 314.4h0M39.7 302.0h0M41.2 313.2h0" stroke="#000" stroke-opacity="0.26" stroke-width="0.84" stroke-linecap="round" fill="none"/>
<path d="M53.6 313.4h0M69.1 300.2h0M65.9 298.5h0M40.0 304.9h0M53.9 311.1h0M80.4 297.0h0M62.8 311.5h0M54.7 287.9h0M70.6 317.4h0M73.4 309.2h0M77.5 308.3h0M66.4 298.1h0M49.0 306.0h0M37.7 296.6h0M73.8 309.8h0M65.7 288.9h0M54.9 298.2h0M65.3 296.1h0M68.2 319.6h0M42.2 307.2h0M73.6 295.2h0M58.4 321.7h0M34.5 302.2h0M41.0 312.9h0M82.2 301.1h0M37.8 303.6h0M61.1 310.0h0M59.5 306.5h0M76.3 301.2h0M54.2 320.4h0M43.6 308.5h0M53.2 312.1h0M39.0 322.1h0M51.3 280.2h0M47.0 295.7h0M33.2 296.5h0M54.7 309.2h0M51.1 289.6h0" stroke="#000" stroke-opacity="0.18" stroke-width="0.80" stroke-linecap="round" fill="none"/>
<text x="70" y="293" font-size="7.3" text-anchor="start" font-weight="bold" fill="#000" >8.3</text>
<text x="60.3" y="340" font-size="9.8" text-anchor="middle" font-weight="normal" fill="#0a0a0a" stroke="#111" stroke-width="0.16">CD4</text>
<line x1="16.3" y1="229.5" x2="16.3" y2="288.5" stroke="#000" stroke-width="1.7" />
<polyline points="11.3,236.3 16.3,228.7 21.3,236.3" fill="none" stroke="#000" stroke-width="1.7" stroke-linejoin="miter"/>
<text x="14" y="264.6" font-size="9.6" text-anchor="middle" font-weight="normal" fill="#0a0a0a" transform="rotate(-90 14 264.6)" stroke="#111" stroke-width="0.16">Ly5.1</text>
<line x1="82.3" y1="223.3" x2="101.7" y2="223.3" stroke="#949494" stroke-width="3.6" />
<polygon points="100.5,219.4 105.2,223.3 100.5,227.2" fill="#949494"/>
<line x1="82.2" y1="296.6" x2="100.9" y2="296.6" stroke="#949494" stroke-width="3.6" />
<polygon points="99.7,292.7 104.4,296.6 99.7,300.5" fill="#949494"/>
<line x1="101.5" y1="230.4" x2="101.5" y2="288.8" stroke="#000" stroke-width="1.6" />
<polyline points="96.7,237.3 101.5,229.6 106.3,237.3" fill="none" stroke="#000" stroke-width="1.6" stroke-linejoin="miter"/>
<text x="97" y="261" font-size="9.4" text-anchor="middle" font-weight="normal" fill="#0a0a0a" transform="rotate(-90 97 261)" stroke="#111" stroke-width="0.16">CD62L</text>
<rect x="109.3" y="206.6" width="57.6" height="48.9" fill="none" stroke="#2a2a2a" stroke-width="0.8" />
<text x="106.6" y="208.8" font-size="3.6" text-anchor="end" fill="#4a4a4a">10<tspan dy="-1.2" font-size="2.8">4</tspan></text>
<line x1="107.6" y1="207.6" x2="109.3" y2="207.6" stroke="#4a4a4a" stroke-width="0.6" />
<text x="106.6" y="220.2" font-size="3.6" text-anchor="end" fill="#4a4a4a">10<tspan dy="-1.2" font-size="2.8">3</tspan></text>
<line x1="107.6" y1="219" x2="109.3" y2="219" stroke="#4a4a4a" stroke-width="0.6" />
<text x="106.6" y="232.2" font-size="3.6" text-anchor="end" fill="#4a4a4a">10<tspan dy="-1.2" font-size="2.8">2</tspan></text>
<line x1="107.6" y1="231" x2="109.3" y2="231" stroke="#4a4a4a" stroke-width="0.6" />
<text x="106.6" y="244.2" font-size="3.6" text-anchor="end" fill="#4a4a4a">10<tspan dy="-1.2" font-size="2.8">1</tspan></text>
<line x1="107.6" y1="243" x2="109.3" y2="243" stroke="#4a4a4a" stroke-width="0.6" />
<text x="106.6" y="255.7" font-size="3.6" text-anchor="end" fill="#4a4a4a">10<tspan dy="-1.2" font-size="2.8">0</tspan></text>
<line x1="107.6" y1="254.5" x2="109.3" y2="254.5" stroke="#4a4a4a" stroke-width="0.6" />
<text x="111.3" y="260.5" font-size="3.6" text-anchor="middle" fill="#4a4a4a">10<tspan dy="-1.2" font-size="2.8">0</tspan></text>
<line x1="111" y1="255.5" x2="111" y2="257.2" stroke="#4a4a4a" stroke-width="0.6" />
<text x="124.3" y="260.5" font-size="3.6" text-anchor="middle" fill="#4a4a4a">10<tspan dy="-1.2" font-size="2.8">1</tspan></text>
<line x1="124" y1="255.5" x2="124" y2="257.2" stroke="#4a4a4a" stroke-width="0.6" />
<text x="137.3" y="260.5" font-size="3.6" text-anchor="middle" fill="#4a4a4a">10<tspan dy="-1.2" font-size="2.8">2</tspan></text>
<line x1="137" y1="255.5" x2="137" y2="257.2" stroke="#4a4a4a" stroke-width="0.6" />
<text x="150.3" y="260.5" font-size="3.6" text-anchor="middle" fill="#4a4a4a">10<tspan dy="-1.2" font-size="2.8">3</tspan></text>
<line x1="150" y1="255.5" x2="150" y2="257.2" stroke="#4a4a4a" stroke-width="0.6" />
<text x="164.3" y="260.5" font-size="3.6" text-anchor="middle" fill="#4a4a4a">10<tspan dy="-1.2" font-size="2.8">4</tspan></text>
<line x1="164" y1="255.5" x2="164" y2="257.2" stroke="#4a4a4a" stroke-width="0.6" />
<path d="M133.6 225.7h0M134.3 226.1h0M141.0 224.6h0M121.4 221.5h0M124.6 224.2h0M125.0 221.3h0M135.3 218.4h0M127.1 222.4h0M144.3 220.9h0M128.6 224.0h0M127.4 218.4h0M145.6 222.8h0M141.1 225.2h0M151.1 221.3h0M135.1 221.8h0M128.9 222.2h0M139.8 226.3h0M123.2 215.3h0M135.5 225.2h0M116.2 223.1h0M131.9 222.4h0M127.1 221.1h0M116.0 219.3h0M121.4 221.6h0M125.6 223.0h0M124.1 217.6h0M123.9 214.5h0M122.3 220.6h0M129.3 216.7h0M125.4 223.3h0M133.6 223.9h0M134.6 218.6h0M125.1 220.7h0M123.5 216.4h0M128.3 224.6h0M143.9 222.0h0M137.9 221.6h0M141.2 218.9h0M140.8 218.6h0M127.9 217.0h0M127.1 217.9h0M132.4 221.5h0M127.2 218.4h0M125.8 219.9h0M128.0 223.7h0" stroke="#000" stroke-opacity="0.27" stroke-width="0.84" stroke-linecap="round" fill="none"/>
<path d="M140.6 219.4h0M127.2 222.1h0M135.6 216.8h0M134.6 228.4h0M137.7 215.8h0M127.6 220.3h0M135.2 218.9h0M126.9 221.7h0M130.3 223.0h0M121.2 222.7h0M145.7 218.2h0M143.1 217.9h0M130.6 220.4h0M128.1 218.9h0M132.9 226.0h0M143.2 217.8h0M120.7 217.5h0M135.1 215.2h0M118.6 219.9h0M125.6 220.0h0M128.7 220.8h0M122.1 221.0h0M146.8 221.0h0M123.7 215.8h0M134.6 220.5h0M142.3 221.5h0M120.5 228.2h0M133.2 220.3h0M123.1 225.9h0M117.9 220.0h0M122.5 222.6h0M135.3 218.1h0M109.8 220.5h0M128.1 223.1h0M122.2 216.9h0M139.1 218.3h0M136.7 220.9h0M123.8 216.4h0M123.2 218.0h0M129.2 218.9h0M131.8 219.4h0M134.2 214.2h0M137.7 216.1h0M128.8 223.8h0M119.8 215.4h0" stroke="#000" stroke-opacity="0.27" stroke-width="0.84" stroke-linecap="round" fill="none"/>
<path d="M136.8 221.7h0M134.2 218.4h0M135.9 221.0h0M136.4 220.5h0M131.0 219.7h0M137.8 220.9h0M138.5 222.9h0M132.0 219.3h0M138.2 221.9h0M132.3 220.0h0M124.6 221.9h0M132.4 220.5h0M133.1 220.1h0M136.0 224.2h0M129.4 222.7h0M136.3 223.6h0M130.0 219.3h0M138.3 219.6h0M141.3 222.8h0M130.1 223.2h0M130.1 219.8h0M128.7 222.9h0M133.5 219.3h0" stroke="#000" stroke-opacity="0.33" stroke-width="0.84" stroke-linecap="round" fill="none"/>
<path d="M134.2 221.0h0M135.8 219.7h0M125.6 218.2h0M131.1 221.3h0M132.9 221.1h0M139.1 224.4h0M133.0 221.1h0M132.3 219.5h0M130.9 217.0h0M128.7 218.5h0M132.3 226.0h0M137.6 221.1h0M130.4 223.8h0M131.3 220.9h0M127.6 221.9h0M129.2 223.0h0M127.9 223.1h0M129.8 220.1h0M130.6 217.2h0M139.0 220.3h0M125.9 222.6h0M126.5 218.3h0" stroke="#000" stroke-opacity="0.33" stroke-width="0.84" stroke-linecap="round" fill="none"/>
<path d="M138.2 246.2h0M138.6 239.5h0M138.1 239.7h0M140.0 241.1h0M132.1 247.4h0M136.6 251.7h0M126.4 242.9h0M133.2 252.0h0M142.8 249.5h0M122.3 242.6h0M125.6 246.9h0M137.4 251.1h0M127.6 248.6h0M139.3 246.1h0M134.3 244.2h0M132.3 246.1h0M138.1 243.2h0M134.7 242.6h0M140.0 238.0h0M134.6 248.3h0M122.1 243.7h0M135.3 245.5h0M144.6 252.3h0M124.0 239.4h0M130.1 246.9h0M133.8 247.2h0M144.2 241.8h0M135.6 240.8h0M136.7 246.9h0M131.3 243.6h0M137.7 248.1h0M129.9 246.4h0M133.1 245.7h0M146.9 248.0h0M141.9 240.8h0M144.8 250.8h0M128.3 247.1h0M131.2 244.8h0M131.8 241.9h0M132.9 249.8h0M136.4 243.5h0M128.1 253.1h0M145.4 248.8h0M128.6 246.6h0M121.4 254.3h0M137.6 247.9h0M132.8 243.3h0M135.4 243.2h0M137.1 242.5h0M137.1 244.9h0" stroke="#000" stroke-opacity="0.27" stroke-width="0.84" stroke-linecap="round" fill="none"/>
<path d="M126.5 248.4h0M144.5 247.9h0M129.2 245.0h0M128.2 239.1h0M123.4 244.1h0M137.5 245.1h0M129.5 246.7h0M135.2 242.4h0M134.1 243.7h0M139.0 243.4h0M135.0 248.3h0M128.5 249.6h0M134.6 247.1h0M140.2 249.3h0M129.0 244.4h0M151.4 248.4h0M129.2 245.1h0M143.2 244.2h0M133.5 247.2h0M135.2 246.8h0M119.4 248.4h0M128.6 244.2h0M133.2 250.7h0M130.6 243.1h0M151.6 243.9h0M133.3 249.5h0M134.5 245.3h0M123.0 238.1h0M133.9 237.9h0M125.0 243.0h0M133.4 248.0h0M133.7 248.1h0M132.7 243.9h0M136.1 254.2h0M137.7 249.1h0M138.1 242.1h0M136.5 242.6h0M133.9 247.4h0M141.0 251.8h0M136.2 248.5h0M136.9 249.7h0M146.0 252.6h0M131.5 244.1h0M133.3 248.5h0M147.2 246.1h0M135.1 245.5h0M134.6 246.1h0M133.7 246.4h0M136.0 249.6h0M130.6 245.4h0" stroke="#000" stroke-opacity="0.27" stroke-width="0.84" stroke-linecap="round" fill="none"/>
<path d="M121.0 244.1h0M149.4 220.6h0M115.5 216.2h0M143.9 232.9h0M126.0 221.0h0M144.1 241.5h0M154.8 236.4h0M122.1 215.3h0M150.6 229.3h0M150.0 214.9h0M154.8 226.3h0M156.4 248.0h0M137.7 213.2h0M160.1 232.1h0M158.0 223.5h0M121.3 246.6h0M131.0 219.3h0M131.2 236.9h0M111.5 233.9h0M135.2 233.7h0M117.8 241.8h0M155.1 248.0h0M128.5 241.7h0M131.7 243.3h0M114.6 248.3h0M162.4 232.8h0M138.8 234.3h0M140.1 213.4h0M163.2 221.7h0M121.1 216.8h0M124.7 246.0h0M112.9 216.5h0M148.8 220.6h0M112.2 237.1h0M142.2 234.0h0M149.0 216.8h0M157.9 241.9h0M113.7 217.6h0M137.8 233.1h0M126.3 217.6h0M133.0 218.2h0M143.0 247.8h0M119.2 236.0h0M151.3 219.3h0M155.6 250.9h0M132.1 229.8h0M156.3 234.1h0M132.5 251.1h0M152.9 226.4h0M124.2 226.3h0M134.6 252.7h0M154.4 249.9h0M155.0 247.3h0M114.2 233.8h0M162.6 250.8h0M124.7 229.9h0M145.2 227.5h0M139.8 215.4h0M134.5 233.2h0M112.4 218.3h0M163.3 244.4h0M161.5 238.5h0M154.7 248.8h0M158.7 214.0h0M145.7 223.5h0M147.7 223.8h0M140.4 250.4h0M144.6 222.8h0M139.2 230.3h0M162.3 224.4h0M127.7 239.1h0M117.8 236.9h0M162.5 233.6h0M125.7 231.7h0M139.9 218.7h0M117.9 218.0h0M127.0 229.2h0M126.8 222.6h0M116.0 234.9h0M156.3 237.5h0M141.9 239.2h0M122.1 241.7h0M136.0 235.0h0M144.1 231.8h0M127.9 222.5h0M123.2 233.6h0M131.8 236.6h0M111.9 227.0h0M157.5 222.4h0M141.1 232.7h0M126.6 253.0h0M127.1 244.2h0M119.8 215.3h0M158.0 230.6h0M114.6 228.5h0M134.9 242.7h0M117.2 221.8h0M162.7 242.8h0M119.6 226.4h0M130.2 240.2h0M144.3 247.4h0M155.3 233.8h0M150.9 243.0h0M152.0 232.0h0M153.4 241.6h0M160.3 217.8h0M158.0 212.8h0M152.3 236.6h0M138.0 252.0h0M142.0 229.7h0M153.3 248.3h0M143.9 228.1h0M135.5 231.3h0M150.1 224.6h0M132.2 235.3h0M131.9 225.8h0M153.5 247.3h0M138.1 230.8h0M121.2 225.0h0M119.1 236.1h0M142.5 216.2h0M160.6 225.8h0M156.5 246.9h0M162.7 221.0h0M134.2 249.8h0M111.9 214.5h0M141.6 232.9h0M160.6 244.2h0M140.2 253.4h0M139.0 233.8h0M148.0 228.5h0M130.5 236.9h0M130.1 251.4h0M147.6 234.1h0M116.6 227.9h0M132.8 235.6h0M142.1 248.6h0M163.0 232.5h0M134.9 238.1h0M164.7 226.6h0M139.7 246.0h0M120.5 225.6h0M163.7 246.4h0M138.8 217.1h0M159.2 240.8h0M155.3 253.1h0M158.9 229.8h0M119.7 224.5h0M138.7 233.2h0M121.4 220.1h0" stroke="#000" stroke-opacity="0.17" stroke-width="0.80" stroke-linecap="round" fill="none"/>
<text x="112.5" y="213" font-size="7.3" text-anchor="start" font-weight="bold" fill="#000" >17.8</text>
<text x="165.7" y="213" font-size="7.3" text-anchor="end" font-weight="bold" fill="#000" >39.4</text>
<text x="112.5" y="254" font-size="7.3" text-anchor="start" font-weight="bold" fill="#000" >9.7</text>
<text x="165.3" y="254" font-size="7.3" text-anchor="end" font-weight="bold" fill="#000" >33.1</text>
<rect x="110.5" y="274.6" width="56.9" height="50.8" fill="none" stroke="#2a2a2a" stroke-width="0.8" />
<line x1="128.6" y1="274.6" x2="128.6" y2="325.4" stroke="#777" stroke-width="0.75" />
<text x="107.8" y="276.8" font-size="3.6" text-anchor="end" fill="#4a4a4a">10<tspan dy="-1.2" font-size="2.8">4</tspan></text>
<line x1="108.8" y1="275.6" x2="110.5" y2="275.6" stroke="#4a4a4a" stroke-width="0.6" />
<text x="107.8" y="288.2" font-size="3.6" text-anchor="end" fill="#4a4a4a">10<tspan dy="-1.2" font-size="2.8">3</tspan></text>
<line x1="108.8" y1="287" x2="110.5" y2="287" stroke="#4a4a4a" stroke-width="0.6" />
<text x="107.8" y="300.2" font-size="3.6" text-anchor="end" fill="#4a4a4a">10<tspan dy="-1.2" font-size="2.8">2</tspan></text>
<line x1="108.8" y1="299" x2="110.5" y2="299" stroke="#4a4a4a" stroke-width="0.6" />
<text x="107.8" y="312.2" font-size="3.6" text-anchor="end" fill="#4a4a4a">10<tspan dy="-1.2" font-size="2.8">1</tspan></text>
<line x1="108.8" y1="311" x2="110.5" y2="311" stroke="#4a4a4a" stroke-width="0.6" />
<text x="107.8" y="325.6" font-size="3.6" text-anchor="end" fill="#4a4a4a">10<tspan dy="-1.2" font-size="2.8">0</tspan></text>
<line x1="108.8" y1="324.4" x2="110.5" y2="324.4" stroke="#4a4a4a" stroke-width="0.6" />
<text x="113.3" y="332.2" font-size="3.6" text-anchor="middle" fill="#4a4a4a">10<tspan dy="-1.2" font-size="2.8">0</tspan></text>
<line x1="113" y1="325.4" x2="113" y2="327.1" stroke="#4a4a4a" stroke-width="0.6" />
<text x="126.3" y="332.2" font-size="3.6" text-anchor="middle" fill="#4a4a4a">10<tspan dy="-1.2" font-size="2.8">1</tspan></text>
<line x1="126" y1="325.4" x2="126" y2="327.1" stroke="#4a4a4a" stroke-width="0.6" />
<text x="139.3" y="332.2" font-size="3.6" text-anchor="middle" fill="#4a4a4a">10<tspan dy="-1.2" font-size="2.8">2</tspan></text>
<line x1="139" y1="325.4" x2="139" y2="327.1" stroke="#4a4a4a" stroke-width="0.6" />
<text x="152.3" y="332.2" font-size="3.6" text-anchor="middle" fill="#4a4a4a">10<tspan dy="-1.2" font-size="2.8">3</tspan></text>
<line x1="152" y1="325.4" x2="152" y2="327.1" stroke="#4a4a4a" stroke-width="0.6" />
<text x="165.3" y="332.2" font-size="3.6" text-anchor="middle" fill="#4a4a4a">10<tspan dy="-1.2" font-size="2.8">4</tspan></text>
<line x1="165" y1="325.4" x2="165" y2="327.1" stroke="#4a4a4a" stroke-width="0.6" />
<path d="M131.8 287.5h0M135.1 289.8h0M133.6 294.8h0M139.3 287.2h0M130.3 290.6h0M120.9 288.5h0M137.9 291.7h0M138.2 291.6h0M129.8 287.0h0M136.5 287.9h0M137.7 292.6h0M132.4 289.1h0M144.9 292.6h0M130.2 292.0h0M144.0 288.0h0M137.5 288.2h0M125.0 290.7h0M135.4 288.4h0M128.1 291.0h0M134.2 292.0h0M133.9 289.9h0M134.6 291.1h0M134.0 292.3h0M136.1 291.3h0M139.9 294.4h0M137.2 289.1h0M136.9 288.8h0M127.9 295.8h0M132.8 290.4h0M135.1 288.3h0M133.7 292.2h0M137.6 289.4h0M135.0 295.6h0M132.5 289.4h0M139.9 295.7h0M140.5 292.9h0M135.5 291.6h0M141.0 293.9h0M142.5 287.7h0M138.4 292.3h0M133.8 288.1h0M134.9 288.3h0M134.0 289.1h0M135.3 285.8h0M137.6 292.2h0M139.8 291.1h0M139.1 287.2h0M129.7 292.3h0M139.9 286.0h0M139.7 287.2h0M142.1 293.9h0M136.0 289.2h0M135.9 284.9h0M140.5 289.5h0M135.4 284.9h0M142.6 292.1h0M138.1 289.8h0M133.6 285.3h0M142.3 289.7h0M139.9 291.5h0M135.1 292.0h0M136.3 292.7h0M139.9 289.4h0M139.6 293.5h0M128.7 289.0h0" stroke="#000" stroke-opacity="0.31" stroke-width="0.84" stroke-linecap="round" fill="none"/>
<path d="M127.3 298.1h0M129.3 293.3h0M139.8 290.6h0M134.5 288.8h0M135.3 294.8h0M131.9 289.1h0M136.1 289.1h0M127.7 289.7h0M136.7 290.7h0M135.1 287.8h0M143.9 294.3h0M131.8 291.4h0M126.1 286.7h0M136.0 291.4h0M132.2 296.4h0M126.9 285.9h0M136.2 293.5h0M132.7 296.2h0M136.1 292.4h0M139.7 290.1h0M131.7 289.9h0M142.0 294.4h0M137.3 292.8h0M133.9 288.1h0M139.0 291.8h0M128.0 292.5h0M131.7 294.3h0M138.9 297.6h0M133.7 291.0h0M140.8 288.1h0M133.6 289.2h0M130.4 290.2h0M131.1 293.4h0M134.5 291.3h0M133.1 294.5h0M132.6 293.2h0M134.8 292.5h0M135.1 293.5h0M142.6 286.5h0M142.7 291.3h0M130.4 292.8h0M138.4 288.2h0M143.4 294.9h0M137.2 290.7h0M134.6 293.3h0M134.2 289.1h0M135.3 288.3h0M135.9 290.6h0M135.7 291.4h0M139.2 291.2h0M138.5 296.9h0M134.5 287.7h0M135.6 291.8h0M142.2 288.5h0M132.6 288.1h0M131.1 292.1h0M136.1 289.6h0M135.6 294.3h0M132.7 289.9h0M133.4 291.6h0M134.2 286.2h0M131.1 290.2h0M133.1 296.4h0M131.9 295.3h0M139.2 294.4h0" stroke="#000" stroke-opacity="0.31" stroke-width="0.84" stroke-linecap="round" fill="none"/>
<path d="M131.3 313.6h0M137.4 318.4h0M137.9 317.4h0M133.0 316.8h0M133.3 318.0h0M141.6 315.9h0M140.0 315.6h0M132.5 317.2h0M139.9 313.4h0M133.2 313.7h0M141.7 317.4h0M137.1 321.4h0M138.3 322.3h0M133.7 318.5h0M131.5 319.9h0M135.0 317.4h0M137.6 310.5h0M130.2 316.4h0M133.5 315.4h0M125.0 319.9h0M132.5 317.2h0M139.1 309.6h0M133.7 322.0h0M132.6 319.8h0M136.9 314.8h0M131.5 314.8h0M132.9 320.2h0M142.1 308.1h0M135.4 314.9h0M133.4 321.2h0M132.9 313.5h0M137.4 316.7h0M140.0 319.2h0M130.6 318.7h0M136.8 317.9h0M141.0 321.4h0M131.9 315.6h0M135.7 321.4h0M133.5 315.3h0M127.5 319.2h0M135.0 314.2h0M140.9 320.7h0M139.9 314.9h0" stroke="#000" stroke-opacity="0.27" stroke-width="0.84" stroke-linecap="round" fill="none"/>
<path d="M135.7 308.7h0M133.2 318.3h0M136.9 322.1h0M132.9 320.2h0M135.4 316.5h0M140.4 319.4h0M138.5 319.1h0M134.4 316.1h0M128.4 309.5h0M135.0 318.4h0M136.7 313.4h0M140.1 308.7h0M138.1 310.4h0M136.5 313.1h0M129.8 321.7h0M129.8 313.9h0M142.9 310.8h0M136.8 319.0h0M134.0 314.0h0M135.9 316.8h0M134.8 315.9h0M135.9 312.1h0M130.7 315.8h0M131.1 309.7h0M133.7 320.4h0M135.5 317.8h0M143.5 314.6h0M140.3 314.9h0M132.5 311.3h0M139.3 314.9h0M130.3 323.1h0M133.0 312.3h0M131.2 320.0h0M131.2 314.6h0M138.8 313.0h0M134.9 318.0h0M129.8 316.5h0M138.5 319.3h0M133.6 317.1h0M128.9 314.2h0M141.3 315.8h0M133.0 317.7h0" stroke="#000" stroke-opacity="0.27" stroke-width="0.84" stroke-linecap="round" fill="none"/>
<path d="M121.3 289.6h0M121.3 296.3h0M121.7 295.7h0M124.7 288.0h0M127.2 287.5h0M117.8 298.4h0M123.4 295.0h0M120.8 290.7h0M115.0 289.6h0M119.8 288.9h0M123.4 286.9h0M125.8 297.2h0M119.7 298.6h0M124.1 288.1h0" stroke="#000" stroke-opacity="0.2" stroke-width="0.84" stroke-linecap="round" fill="none"/>
<path d="M121.2 290.5h0M125.7 292.6h0M120.0 287.4h0M124.1 287.8h0M123.9 298.5h0M118.2 284.4h0M120.3 281.1h0M119.7 290.7h0M127.0 298.7h0M122.3 296.6h0M121.5 292.6h0M122.8 297.3h0M119.6 293.7h0M118.6 284.4h0" stroke="#000" stroke-opacity="0.2" stroke-width="0.84" stroke-linecap="round" fill="none"/>
<path d="M162.7 283.2h0M130.6 288.8h0M139.0 318.2h0M154.8 284.0h0M122.1 316.0h0M148.4 298.6h0M137.7 289.1h0M157.2 298.7h0M158.7 307.5h0M116.5 296.0h0M123.9 319.1h0M143.7 284.4h0M121.5 297.3h0M137.2 306.1h0M133.0 297.0h0M112.8 306.2h0M130.2 283.4h0M136.8 322.8h0M114.9 288.5h0M148.0 293.7h0M127.0 303.0h0M126.4 305.8h0M140.4 321.6h0M165.0 284.0h0M142.2 314.1h0M158.6 314.2h0M146.0 308.5h0M131.7 294.1h0M154.6 318.2h0M162.2 310.4h0M128.6 313.7h0M151.6 303.4h0M146.1 296.9h0M141.6 299.2h0M115.7 296.4h0M129.6 322.9h0M138.0 297.6h0M125.4 292.2h0M131.0 288.1h0M112.9 318.1h0M136.5 300.8h0M142.6 294.9h0M121.4 285.3h0M128.4 295.2h0M150.9 305.1h0M162.1 296.5h0M161.2 306.4h0M116.7 289.9h0M143.2 322.9h0M131.4 314.2h0M135.2 318.0h0M116.1 302.4h0M160.1 293.9h0M126.1 283.5h0M121.2 293.5h0M149.8 291.5h0M133.6 290.8h0M144.4 317.9h0M146.8 290.6h0M151.3 321.9h0M144.3 285.8h0M155.3 318.3h0M130.5 288.2h0M122.5 304.5h0M158.8 308.7h0M161.3 291.3h0M129.8 313.2h0M146.8 299.1h0M148.4 296.4h0M115.5 299.5h0M114.9 308.2h0M130.2 302.8h0M144.1 293.1h0M137.0 283.2h0M161.4 305.6h0M164.7 284.9h0M145.0 312.1h0M129.9 286.4h0M120.8 288.4h0M153.1 286.3h0M155.6 299.9h0M141.0 306.6h0M141.9 309.4h0M144.3 296.1h0M151.7 293.1h0M150.1 313.7h0M153.5 295.2h0M153.4 322.5h0M136.5 294.0h0M140.2 321.0h0M119.5 283.0h0M137.7 309.3h0M153.5 297.4h0M164.8 291.9h0M152.5 286.3h0M114.0 288.1h0M115.7 303.1h0M141.9 290.0h0M162.2 297.5h0M120.4 289.8h0M151.5 320.2h0M121.1 283.8h0M153.7 292.5h0M164.5 303.0h0M146.2 296.6h0M154.8 301.4h0M129.6 319.5h0M118.2 312.5h0M116.0 308.9h0M133.8 317.9h0" stroke="#000" stroke-opacity="0.16" stroke-width="0.80" stroke-linecap="round" fill="none"/>
<text x="112.3" y="281" font-size="7.3" text-anchor="start" font-weight="bold" fill="#000" >11.2</text>
<text x="166.5" y="281" font-size="7.3" text-anchor="end" font-weight="bold" fill="#000" >47.7</text>
<text x="112.3" y="324" font-size="7.3" text-anchor="start" font-weight="bold" fill="#000" >7.6</text>
<text x="166.2" y="324" font-size="7.3" text-anchor="end" font-weight="bold" fill="#000" >33.5</text>
<text x="144.5" y="340" font-size="10" text-anchor="middle" font-weight="normal" fill="#0a0a0a" stroke="#111" stroke-width="0.16">CD44</text>
<line x1="218.7" y1="207.6" x2="218.7" y2="313.8" stroke="#808080" stroke-width="1" />
<line x1="216.1" y1="313.8" x2="218.7" y2="313.8" stroke="#808080" stroke-width="1" />
<text x="209.8" y="317" font-size="10" text-anchor="end" font-weight="normal" fill="#383838" >0.0</text>
<line x1="216.1" y1="296.1" x2="218.7" y2="296.1" stroke="#808080" stroke-width="1" />
<text x="209.8" y="300" font-size="10" text-anchor="end" font-weight="normal" fill="#383838" >0.1</text>
<line x1="216.1" y1="278.4" x2="218.7" y2="278.4" stroke="#808080" stroke-width="1" />
<text x="209.8" y="282" font-size="10" text-anchor="end" font-weight="normal" fill="#383838" >0.2</text>
<line x1="216.1" y1="260.7" x2="218.7" y2="260.7" stroke="#808080" stroke-width="1" />
<text x="209.8" y="264" font-size="10" text-anchor="end" font-weight="normal" fill="#383838" >0.3</text>
<line x1="216.1" y1="243" x2="218.7" y2="243" stroke="#808080" stroke-width="1" />
<text x="209.8" y="246" font-size="10" text-anchor="end" font-weight="normal" fill="#383838" >0.4</text>
<line x1="216.1" y1="225.3" x2="218.7" y2="225.3" stroke="#808080" stroke-width="1" />
<text x="209.8" y="229" font-size="10" text-anchor="end" font-weight="normal" fill="#383838" >0.5</text>
<line x1="216.1" y1="207.6" x2="218.7" y2="207.6" stroke="#808080" stroke-width="1" />
<text x="209.8" y="211" font-size="10" text-anchor="end" font-weight="normal" fill="#383838" >0.6</text>
<line x1="218.7" y1="313.8" x2="310.6" y2="313.8" stroke="#808080" stroke-width="1" />
<line x1="310.6" y1="313.8" x2="310.6" y2="316.6" stroke="#808080" stroke-width="1" />
<text x="187" y="278.8" font-size="9.8" text-anchor="middle" font-weight="normal" fill="#4d4d4d" transform="rotate(-90 187 278.8)" >No of CD4 cells (K/uL)</text>
<rect x="228.4" y="277.4" width="13.2" height="36.4" fill="#fff" stroke="#4a4a4a" stroke-width="0.8" />
<rect x="241.6" y="279.3" width="13.5" height="34.5" fill="#000" stroke="none" stroke-width="1" />
<line x1="234.8" y1="267.4" x2="234.8" y2="288.4" stroke="#000" stroke-width="1.25" />
<line x1="232.3" y1="267.4" x2="237.3" y2="267.4" stroke="#000" stroke-width="1.25" />
<line x1="232.3" y1="288.4" x2="237.3" y2="288.4" stroke="#000" stroke-width="1.25" />
<line x1="248.35" y1="274.3" x2="248.35" y2="279.3" stroke="#000" stroke-width="1.25" />
<line x1="245.85" y1="274.3" x2="250.85" y2="274.3" stroke="#000" stroke-width="1.25" />
<line x1="245.85" y1="279.3" x2="250.85" y2="279.3" stroke="#000" stroke-width="1.25" />
<rect x="274.9" y="229.4" width="12.9" height="84.4" fill="#fff" stroke="#4a4a4a" stroke-width="0.8" />
<rect x="287.8" y="246.2" width="13.1" height="67.6" fill="#000" stroke="none" stroke-width="1" />
<line x1="281.15" y1="217.1" x2="281.15" y2="241.8" stroke="#000" stroke-width="1.25" />
<line x1="278.65" y1="217.1" x2="283.65" y2="217.1" stroke="#000" stroke-width="1.25" />
<line x1="278.65" y1="241.8" x2="283.65" y2="241.8" stroke="#000" stroke-width="1.25" />
<line x1="294.35" y1="239.3" x2="294.35" y2="246.2" stroke="#000" stroke-width="1.25" />
<line x1="291.85" y1="239.3" x2="296.85" y2="239.3" stroke="#000" stroke-width="1.25" />
<line x1="291.85" y1="246.2" x2="296.85" y2="246.2" stroke="#000" stroke-width="1.25" />
<rect x="225.1" y="217.8" width="4.4" height="4.4" fill="#fff" stroke="#222" stroke-width="0.8" />
<text x="231.7" y="224" font-size="10.1" text-anchor="start" font-weight="normal" fill="#383838" >WT</text>
<rect x="224.7" y="233.5" width="5.3" height="5.3" fill="#000" stroke="none" stroke-width="1" />
<text x="230.4" y="240" font-size="10" text-anchor="start" font-weight="normal" fill="#383838" >Lin28b</text>
<text x="223.6" y="331" font-size="12.4" text-anchor="start" font-weight="normal" fill="#0a0a0a" stroke="#111" stroke-width="0.16">CD62l</text>
<text x="223.6" y="346" font-size="12.4" text-anchor="start" font-weight="normal" fill="#0a0a0a" stroke="#111" stroke-width="0.16">CD44-</text>
<text x="267.7" y="331" font-size="12.4" text-anchor="start" font-weight="normal" fill="#0a0a0a" stroke="#111" stroke-width="0.16">CD62L-</text>
<text x="267.7" y="346" font-size="12.4" text-anchor="start" font-weight="normal" fill="#0a0a0a" stroke="#111" stroke-width="0.16">CD44+</text>
<text x="359.1" y="204.7" font-size="16.9" text-anchor="start" font-weight="bold" fill="#000" >E</text>
<line x1="374.6" y1="220.9" x2="374.6" y2="317.2" stroke="#151515" stroke-width="1.25" />
<line x1="371.3" y1="316.9" x2="518.5" y2="316.9" stroke="#151515" stroke-width="1.45" />
<line x1="371.2" y1="317.2" x2="374.6" y2="317.2" stroke="#151515" stroke-width="1" />
<text x="370.5" y="319" font-size="6.3" text-anchor="end" font-weight="bold" fill="#0a0a0a" >0</text>
<line x1="371.2" y1="298.04" x2="374.6" y2="298.04" stroke="#151515" stroke-width="1" />
<text x="370.5" y="300" font-size="6.3" text-anchor="end" font-weight="bold" fill="#0a0a0a" >20</text>
<line x1="371.2" y1="278.88" x2="374.6" y2="278.88" stroke="#151515" stroke-width="1" />
<text x="370.5" y="281" font-size="6.3" text-anchor="end" font-weight="bold" fill="#0a0a0a" >40</text>
<line x1="371.2" y1="259.72" x2="374.6" y2="259.72" stroke="#151515" stroke-width="1" />
<text x="370.5" y="262" font-size="6.3" text-anchor="end" font-weight="bold" fill="#0a0a0a" >60</text>
<line x1="371.2" y1="240.56" x2="374.6" y2="240.56" stroke="#151515" stroke-width="1" />
<text x="370.5" y="243" font-size="6.3" text-anchor="end" font-weight="bold" fill="#0a0a0a" >80</text>
<line x1="371.2" y1="221.4" x2="374.6" y2="221.4" stroke="#151515" stroke-width="1" />
<text x="370.5" y="224" font-size="6.3" text-anchor="end" font-weight="bold" fill="#0a0a0a" >100</text>
<line x1="374.6" y1="317.2" x2="374.6" y2="319.8" stroke="#151515" stroke-width="1" />
<text x="374.6" y="328" font-size="6.5" text-anchor="middle" font-weight="bold" fill="#0a0a0a" >0</text>
<line x1="416.6" y1="317.2" x2="416.6" y2="319.8" stroke="#151515" stroke-width="1" />
<text x="416.6" y="328" font-size="6.5" text-anchor="middle" font-weight="bold" fill="#0a0a0a" >5</text>
<line x1="458.6" y1="317.2" x2="458.6" y2="319.8" stroke="#151515" stroke-width="1" />
<text x="458.6" y="328" font-size="6.5" text-anchor="middle" font-weight="bold" fill="#0a0a0a" >10</text>
<line x1="500.6" y1="317.2" x2="500.6" y2="319.8" stroke="#151515" stroke-width="1" />
<text x="500.6" y="328" font-size="6.5" text-anchor="middle" font-weight="bold" fill="#0a0a0a" >15</text>
<line x1="374.6" y1="221.4" x2="519" y2="221.4" stroke="#5e5e5e" stroke-width="1.05" />
<text x="354.5" y="269" font-size="8" text-anchor="middle" font-weight="bold" fill="#0a0a0a" transform="rotate(-90 354.5 269)" stroke="#0a0a0a" stroke-width="0.2">Percent PTCL-free</text>
<text x="445.5" y="338" font-size="7.8" text-anchor="middle" font-weight="bold" fill="#0a0a0a" stroke="#0a0a0a" stroke-width="0.2">Months of Age</text>
<polyline points="424.8,221.8 424.8,224.8 427.2,224.8 427.2,227.4 458.5,227.4 458.5,239.3 475.8,239.3 475.8,245.1 484,245.1 484,256.7 496.4,256.7 496.4,262.2 501,262.2 501,269.3 509.6,269.3 509.6,275.1 515,275.1" fill="none" stroke="#7c7c7c" stroke-width="1" stroke-dasharray="2.4 1.5"/>
<polyline points="433.7,222.2 433.7,229.5 475.8,229.5 475.8,237 484,237 484,245.3 492.3,245.3 492.3,261.3 518.3,261.3 518.3,285.6" fill="none" stroke="#111" stroke-width="1.25" stroke-dasharray="1.15 1.45" stroke-linejoin="miter"/>
<line x1="386.4" y1="277.3" x2="396.9" y2="277.3" stroke="#c6c6c6" stroke-width="1" stroke-dasharray="3.6 2"/>
<line x1="387.2" y1="288.3" x2="396.9" y2="288.3" stroke="#b8b8b8" stroke-width="1.3" stroke-dasharray="1.5 2.3"/>
<line x1="386" y1="299.4" x2="396.7" y2="299.4" stroke="#505050" stroke-width="1.3" />
<line x1="386" y1="310.4" x2="396.7" y2="310.4" stroke="#505050" stroke-width="1.3" />
<text x="403" y="280" font-size="7.8" text-anchor="start" font-weight="normal" fill="#3e3e3e" >C3</text>
<text x="403" y="291" font-size="7.8" text-anchor="start" font-weight="normal" fill="#3e3e3e" >D4</text>
<text x="403" y="302" font-size="7.8" text-anchor="start" font-weight="normal" fill="#3e3e3e" >BMT (WT)</text>
<text x="403" y="313" font-size="7.8" text-anchor="start" font-weight="normal" fill="#3e3e3e" >BMT (Tg)</text>
<text x="1.8" y="380" font-size="17" text-anchor="start" font-weight="bold" fill="#000" >D</text>
<text x="58.1" y="368" font-size="9.6" text-anchor="middle" font-weight="normal" fill="#0a0a0a" stroke="#111" stroke-width="0.16">WT</text>
<line x1="32.3" y1="371.4" x2="87" y2="371.4" stroke="#a5a5a5" stroke-width="0.8" />
<line x1="87" y1="371.4" x2="87" y2="422.5" stroke="#a5a5a5" stroke-width="0.8" />
<line x1="32.3" y1="371.4" x2="32.3" y2="422.5" stroke="#777" stroke-width="0.9" />
<line x1="32.3" y1="422.5" x2="87" y2="422.5" stroke="#666" stroke-width="0.8" stroke-dasharray="2.4 0.8"/>
<text x="29.6" y="373.6" font-size="3.6" text-anchor="end" fill="#4a4a4a">10<tspan dy="-1.2" font-size="2.8">4</tspan></text>
<line x1="30.6" y1="372.4" x2="32.3" y2="372.4" stroke="#4a4a4a" stroke-width="0.6" />
<text x="29.6" y="385.2" font-size="3.6" text-anchor="end" fill="#4a4a4a">10<tspan dy="-1.2" font-size="2.8">3</tspan></text>
<line x1="30.6" y1="384" x2="32.3" y2="384" stroke="#4a4a4a" stroke-width="0.6" />
<text x="29.6" y="397.2" font-size="3.6" text-anchor="end" fill="#4a4a4a">10<tspan dy="-1.2" font-size="2.8">2</tspan></text>
<line x1="30.6" y1="396" x2="32.3" y2="396" stroke="#4a4a4a" stroke-width="0.6" />
<text x="29.6" y="409.2" font-size="3.6" text-anchor="end" fill="#4a4a4a">10<tspan dy="-1.2" font-size="2.8">1</tspan></text>
<line x1="30.6" y1="408" x2="32.3" y2="408" stroke="#4a4a4a" stroke-width="0.6" />
<text x="29.6" y="422.7" font-size="3.6" text-anchor="end" fill="#4a4a4a">10<tspan dy="-1.2" font-size="2.8">0</tspan></text>
<line x1="30.6" y1="421.5" x2="32.3" y2="421.5" stroke="#4a4a4a" stroke-width="0.6" />
<text x="34.9" y="428.7" font-size="3.6" text-anchor="middle" fill="#4a4a4a">10<tspan dy="-1.2" font-size="2.8">0</tspan></text>
<line x1="34.6" y1="422.5" x2="34.6" y2="424.2" stroke="#4a4a4a" stroke-width="0.6" />
<text x="48" y="428.7" font-size="3.6" text-anchor="middle" fill="#4a4a4a">10<tspan dy="-1.2" font-size="2.8">1</tspan></text>
<line x1="47.7" y1="422.5" x2="47.7" y2="424.2" stroke="#4a4a4a" stroke-width="0.6" />
<text x="61.5" y="428.7" font-size="3.6" text-anchor="middle" fill="#4a4a4a">10<tspan dy="-1.2" font-size="2.8">2</tspan></text>
<line x1="61.2" y1="422.5" x2="61.2" y2="424.2" stroke="#4a4a4a" stroke-width="0.6" />
<text x="74.3" y="428.7" font-size="3.6" text-anchor="middle" fill="#4a4a4a">10<tspan dy="-1.2" font-size="2.8">3</tspan></text>
<line x1="74" y1="422.5" x2="74" y2="424.2" stroke="#4a4a4a" stroke-width="0.6" />
<text x="85.3" y="428.7" font-size="3.6" text-anchor="middle" fill="#4a4a4a">10<tspan dy="-1.2" font-size="2.8">4</tspan></text>
<line x1="85" y1="422.5" x2="85" y2="424.2" stroke="#4a4a4a" stroke-width="0.6" />
<line x1="57.4" y1="383.5" x2="82" y2="383.5" stroke="#6e6e6e" stroke-width="0.8" />
<line x1="57.4" y1="404.5" x2="82" y2="404.5" stroke="#6e6e6e" stroke-width="0.8" />
<g clip-path="url(#d1)"><ellipse cx="38.3" cy="392" rx="5.8" ry="5.4" fill="#000" fill-opacity="0.34" filter="url(#bl1_3)"/></g>
<path d="M42.3 393.5h0M38.7 394.3h0M38.6 394.1h0M35.1 401.5h0M41.9 397.2h0M38.4 386.2h0M40.9 396.0h0M40.0 398.2h0M39.7 390.5h0M38.1 392.7h0M45.6 392.4h0M39.9 393.1h0M34.4 397.9h0M39.1 391.9h0M38.0 391.2h0M36.9 392.6h0M35.6 397.8h0M40.6 394.5h0M41.5 396.1h0M36.0 394.9h0M40.2 399.9h0M38.0 393.9h0M42.1 393.0h0M38.0 392.3h0M34.3 390.9h0M42.0 388.5h0M35.8 394.0h0M38.6 392.0h0M36.5 393.6h0M41.5 387.5h0M37.3 389.4h0M34.8 399.6h0M40.7 389.1h0M38.2 389.0h0M33.8 391.3h0M35.5 389.2h0M37.6 398.8h0M34.6 391.5h0M41.9 390.3h0M39.2 389.9h0M33.7 393.1h0M39.0 391.3h0M39.0 390.6h0M40.8 393.8h0M36.9 392.4h0M38.4 390.2h0M35.9 391.7h0M37.8 392.4h0M40.2 392.7h0M37.2 394.1h0M34.0 387.4h0M39.5 387.9h0M35.3 393.0h0M34.3 394.5h0M35.0 394.7h0M43.4 391.1h0M37.7 393.0h0M34.5 391.4h0M42.7 392.7h0M40.1 389.3h0M35.7 387.5h0M36.5 388.4h0M40.0 393.5h0M39.4 392.8h0M43.0 393.6h0" stroke="#000" stroke-opacity="0.3" stroke-width="0.96" stroke-linecap="round" fill="none"/>
<path d="M42.7 390.5h0M38.0 395.3h0M38.6 387.6h0M39.2 395.9h0M40.1 390.2h0M37.7 394.7h0M35.3 390.0h0M34.6 396.1h0M45.3 384.4h0M45.1 397.4h0M41.4 396.1h0M37.7 390.8h0M36.9 385.7h0M38.9 397.5h0M35.9 391.9h0M48.3 393.2h0M41.1 394.5h0M40.5 396.3h0M36.7 392.0h0M41.0 390.6h0M42.3 388.6h0M38.2 393.2h0M34.8 394.2h0M36.5 387.8h0M34.9 383.8h0M36.0 393.6h0M36.8 392.9h0M38.2 396.3h0M38.8 393.5h0M39.2 391.5h0M35.8 388.9h0M43.8 392.0h0M38.8 396.3h0M37.5 389.0h0M37.0 389.5h0M39.1 396.2h0M33.1 392.8h0M38.6 393.7h0M34.3 391.4h0M41.2 397.1h0M41.6 386.2h0M33.7 396.0h0M39.7 393.9h0M39.6 388.4h0M37.1 388.8h0M37.0 389.3h0M36.2 394.1h0M39.6 395.8h0M37.8 389.6h0M39.0 390.8h0M39.3 395.1h0M37.6 392.7h0M37.7 389.5h0M39.4 389.3h0M40.2 391.1h0M34.9 395.3h0M38.4 389.0h0M42.8 389.0h0M34.7 392.8h0M34.7 393.3h0M37.5 392.5h0M39.0 386.7h0M43.7 394.7h0M38.4 388.0h0M37.4 388.5h0" stroke="#000" stroke-opacity="0.3" stroke-width="0.96" stroke-linecap="round" fill="none"/>
<path d="M50.1 393.8h0M51.4 392.8h0M43.5 394.8h0M45.1 394.3h0M48.1 390.9h0M48.1 393.3h0M47.0 391.7h0M42.5 392.4h0M42.9 391.9h0M49.1 391.6h0M42.3 392.4h0M44.7 396.2h0M46.9 390.4h0M39.3 394.1h0M44.9 392.3h0M43.8 392.1h0M46.7 390.7h0M44.9 394.1h0" stroke="#000" stroke-opacity="0.28" stroke-width="0.84" stroke-linecap="round" fill="none"/>
<path d="M41.8 394.0h0M46.7 392.0h0M55.1 393.0h0M44.6 394.1h0M42.2 392.7h0M49.4 390.3h0M45.8 393.4h0M41.9 393.3h0M46.2 391.6h0M48.1 393.3h0M42.9 392.1h0M44.2 395.7h0M38.3 394.0h0M48.7 393.5h0M46.3 392.2h0M49.1 391.7h0M43.3 390.3h0" stroke="#000" stroke-opacity="0.28" stroke-width="0.84" stroke-linecap="round" fill="none"/>
<g><ellipse cx="70.3" cy="394.4" rx="3" ry="1.8" fill="#000" fill-opacity="0.2" filter="url(#bl1_0)"/></g>
<path d="M70.9 393.4h0M71.1 395.0h0M65.3 396.0h0M69.0 393.2h0M76.4 395.5h0M67.1 393.4h0M72.5 393.4h0M72.9 388.5h0M66.0 396.6h0M73.1 395.8h0M69.0 393.4h0M80.4 391.0h0M69.0 396.4h0M71.2 394.0h0M66.1 392.8h0M68.8 399.0h0M70.6 394.1h0M65.0 398.8h0M67.8 396.5h0M72.5 397.9h0M68.3 394.0h0M66.5 393.0h0M74.1 396.2h0M67.7 396.1h0M73.9 399.0h0M72.7 392.6h0M71.1 393.6h0M72.8 396.1h0M66.4 394.3h0M70.3 395.5h0M62.2 394.3h0M63.4 394.7h0M70.6 398.0h0M73.3 394.8h0M71.0 393.8h0M64.6 392.2h0M69.9 397.4h0M65.7 392.1h0" stroke="#000" stroke-opacity="0.32" stroke-width="0.84" stroke-linecap="round" fill="none"/>
<path d="M71.9 393.7h0M71.7 389.1h0M69.4 399.2h0M75.0 395.6h0M69.1 395.9h0M67.9 393.9h0M70.9 393.3h0M69.1 394.8h0M70.6 397.1h0M69.3 392.1h0M70.7 393.4h0M73.9 393.4h0M69.8 391.8h0M62.6 394.8h0M71.5 395.0h0M71.3 393.1h0M62.1 391.1h0M69.2 393.8h0M69.9 398.0h0M69.4 395.2h0M63.8 393.2h0M74.0 395.0h0M73.0 396.5h0M68.7 393.3h0M66.4 398.1h0M70.7 395.2h0M65.3 394.5h0M72.1 396.7h0M71.0 396.5h0M70.3 398.8h0M78.4 394.9h0M64.8 393.0h0M71.4 395.8h0M66.8 394.2h0M67.5 393.6h0M69.5 393.6h0M70.8 394.3h0" stroke="#000" stroke-opacity="0.32" stroke-width="0.84" stroke-linecap="round" fill="none"/>
<path d="M75.4 389.5h0M75.2 395.2h0M80.9 373.9h0M81.9 392.8h0M54.3 377.5h0M46.0 408.0h0M68.4 380.5h0M51.1 380.0h0M43.5 383.7h0M50.4 419.4h0M84.9 410.7h0M58.1 396.8h0M73.6 416.2h0M72.2 403.4h0M43.6 402.8h0M77.0 410.4h0M38.1 407.2h0M51.4 381.0h0M83.2 405.1h0M71.8 379.8h0M76.1 417.5h0M80.1 408.5h0M76.3 411.2h0M63.8 393.9h0M76.0 410.3h0M78.3 387.5h0M83.0 398.4h0M82.2 378.9h0M83.4 410.5h0M46.3 412.9h0M45.3 382.7h0M57.0 384.5h0M58.8 416.2h0M68.7 406.9h0M53.6 410.3h0" stroke="#000" stroke-opacity="0.16" stroke-width="0.80" stroke-linecap="round" fill="none"/>
<text x="70.2" y="391" font-size="7.3" text-anchor="start" font-weight="bold" fill="#000" >8.2</text>
<text x="57.9" y="447" font-size="9.9" text-anchor="middle" font-weight="normal" fill="#0a0a0a" stroke="#111" stroke-width="0.16">Lin28b</text>
<line x1="33.5" y1="449" x2="87.3" y2="449" stroke="#666" stroke-width="0.7" />
<line x1="33.5" y1="449" x2="33.5" y2="501.2" stroke="#666" stroke-width="0.9" />
<line x1="87.3" y1="449" x2="87.3" y2="501.2" stroke="#777" stroke-width="0.7" />
<line x1="33.5" y1="501.2" x2="87.3" y2="501.2" stroke="#777" stroke-width="0.8" />
<text x="30.8" y="451.2" font-size="3.6" text-anchor="end" fill="#4a4a4a">10<tspan dy="-1.2" font-size="2.8">4</tspan></text>
<line x1="31.8" y1="450" x2="33.5" y2="450" stroke="#4a4a4a" stroke-width="0.6" />
<text x="30.8" y="463.2" font-size="3.6" text-anchor="end" fill="#4a4a4a">10<tspan dy="-1.2" font-size="2.8">3</tspan></text>
<line x1="31.8" y1="462" x2="33.5" y2="462" stroke="#4a4a4a" stroke-width="0.6" />
<text x="30.8" y="475.2" font-size="3.6" text-anchor="end" fill="#4a4a4a">10<tspan dy="-1.2" font-size="2.8">2</tspan></text>
<line x1="31.8" y1="474" x2="33.5" y2="474" stroke="#4a4a4a" stroke-width="0.6" />
<text x="30.8" y="488.2" font-size="3.6" text-anchor="end" fill="#4a4a4a">10<tspan dy="-1.2" font-size="2.8">1</tspan></text>
<line x1="31.8" y1="487" x2="33.5" y2="487" stroke="#4a4a4a" stroke-width="0.6" />
<text x="30.8" y="501.4" font-size="3.6" text-anchor="end" fill="#4a4a4a">10<tspan dy="-1.2" font-size="2.8">0</tspan></text>
<line x1="31.8" y1="500.2" x2="33.5" y2="500.2" stroke="#4a4a4a" stroke-width="0.6" />
<text x="35.3" y="507.4" font-size="3.6" text-anchor="middle" fill="#4a4a4a">10<tspan dy="-1.2" font-size="2.8">0</tspan></text>
<line x1="35" y1="501.2" x2="35" y2="502.9" stroke="#4a4a4a" stroke-width="0.6" />
<text x="48.3" y="507.4" font-size="3.6" text-anchor="middle" fill="#4a4a4a">10<tspan dy="-1.2" font-size="2.8">1</tspan></text>
<line x1="48" y1="501.2" x2="48" y2="502.9" stroke="#4a4a4a" stroke-width="0.6" />
<text x="62.3" y="507.4" font-size="3.6" text-anchor="middle" fill="#4a4a4a">10<tspan dy="-1.2" font-size="2.8">2</tspan></text>
<line x1="62" y1="501.2" x2="62" y2="502.9" stroke="#4a4a4a" stroke-width="0.6" />
<text x="75.3" y="507.4" font-size="3.6" text-anchor="middle" fill="#4a4a4a">10<tspan dy="-1.2" font-size="2.8">3</tspan></text>
<line x1="75" y1="501.2" x2="75" y2="502.9" stroke="#4a4a4a" stroke-width="0.6" />
<text x="87.3" y="507.4" font-size="3.6" text-anchor="middle" fill="#4a4a4a">10<tspan dy="-1.2" font-size="2.8">4</tspan></text>
<line x1="87" y1="501.2" x2="87" y2="502.9" stroke="#4a4a4a" stroke-width="0.6" />
<polyline points="58.8,482.5 58.8,461.3 83.1,461.3 83.1,482.5" fill="none" stroke="#6a6a6a" stroke-width="0.8" />
<line x1="58.8" y1="482.5" x2="83.1" y2="482.5" stroke="#999" stroke-width="1.1" />
<g clip-path="url(#d2)"><ellipse cx="39.6" cy="470" rx="5.8" ry="5.3" fill="#000" fill-opacity="0.37" filter="url(#bl1_3)"/></g>
<path d="M41.0 465.6h0M38.4 470.7h0M37.2 473.4h0M43.4 470.1h0M40.9 467.1h0M38.4 471.8h0M37.6 468.3h0M38.5 466.9h0M43.2 473.1h0M40.7 472.2h0M40.7 476.2h0M36.5 472.2h0M41.7 469.9h0M39.5 470.0h0M39.6 472.8h0M42.2 467.3h0M43.4 467.2h0M36.5 473.4h0M34.7 469.4h0M45.5 472.0h0M34.4 471.6h0M39.6 469.2h0M46.3 468.2h0M38.7 469.6h0M37.9 468.1h0M36.3 469.1h0M41.3 465.8h0M39.3 471.8h0M40.4 467.3h0M41.0 468.8h0M39.2 470.9h0M47.9 468.4h0M41.7 469.3h0M41.6 471.5h0M42.1 469.5h0M35.9 466.0h0M39.8 466.6h0M39.6 467.6h0M36.9 469.5h0M39.7 469.1h0M34.9 475.7h0M43.4 471.6h0M34.5 472.8h0M34.3 463.8h0M40.1 467.0h0M37.8 472.5h0M42.2 475.6h0M36.2 464.4h0M42.7 471.2h0M36.1 472.2h0M41.1 464.4h0M39.7 466.5h0M39.3 464.4h0M43.1 473.4h0M39.4 471.1h0M39.3 472.1h0M35.6 462.7h0M39.2 468.9h0M44.2 470.1h0M42.9 471.2h0M45.6 471.4h0M37.5 468.0h0M40.8 475.2h0M41.1 466.5h0M43.4 470.6h0M36.0 466.5h0M35.2 469.7h0" stroke="#000" stroke-opacity="0.32" stroke-width="1.00" stroke-linecap="round" fill="none"/>
<path d="M45.4 468.0h0M36.0 465.3h0M42.6 465.4h0M41.2 470.1h0M36.7 468.0h0M35.7 474.6h0M41.8 471.3h0M36.4 465.4h0M45.5 471.4h0M42.6 469.3h0M34.2 465.9h0M43.4 469.0h0M40.6 468.4h0M43.2 476.4h0M43.0 472.3h0M34.2 474.8h0M43.7 471.9h0M37.4 467.9h0M42.8 468.1h0M37.9 466.5h0M43.7 466.9h0M38.8 471.5h0M42.3 473.1h0M35.3 473.1h0M39.8 467.5h0M44.3 469.4h0M38.3 465.5h0M34.1 467.4h0M42.1 472.8h0M39.5 468.2h0M38.6 472.8h0M40.7 472.4h0M38.1 472.9h0M37.0 471.8h0M41.7 476.3h0M38.8 471.6h0M35.0 468.4h0M34.8 475.1h0M37.9 468.3h0M41.6 466.6h0M39.4 472.2h0M39.7 465.5h0M41.8 471.7h0M36.2 466.6h0M44.7 468.2h0M40.7 467.4h0M35.7 469.3h0M41.6 472.0h0M37.5 466.6h0M38.7 475.7h0M42.5 473.6h0M45.3 466.2h0M35.6 465.0h0M38.3 466.0h0M34.7 466.6h0M39.8 471.3h0M40.6 467.3h0M41.1 467.7h0M41.3 471.8h0M34.0 468.2h0M41.4 471.4h0M37.5 473.4h0M41.2 475.5h0M45.2 471.0h0M38.5 470.5h0M36.7 468.5h0M40.6 476.0h0" stroke="#000" stroke-opacity="0.32" stroke-width="1.00" stroke-linecap="round" fill="none"/>
<path d="M53.3 470.4h0M48.7 470.4h0M42.9 471.2h0M46.4 471.4h0M49.3 473.1h0M49.1 473.0h0M42.9 469.5h0M54.3 469.3h0M49.5 470.9h0M46.7 468.1h0M49.8 472.6h0M49.4 470.8h0M48.7 468.7h0M50.7 472.9h0M52.3 468.9h0M48.6 471.1h0M48.1 471.8h0M45.6 466.5h0M47.2 468.8h0M47.8 470.7h0" stroke="#000" stroke-opacity="0.35" stroke-width="0.84" stroke-linecap="round" fill="none"/>
<path d="M50.3 470.1h0M45.8 470.6h0M46.6 468.7h0M45.4 471.3h0M44.1 470.3h0M48.3 471.8h0M52.7 470.0h0M46.6 467.8h0M53.9 470.8h0M47.2 472.1h0M50.2 470.4h0M43.3 473.4h0M48.7 471.0h0M37.9 471.4h0M41.6 471.0h0M44.0 469.7h0M54.4 471.0h0M50.9 470.3h0M49.8 467.5h0M48.5 472.7h0" stroke="#000" stroke-opacity="0.35" stroke-width="0.84" stroke-linecap="round" fill="none"/>
<g><ellipse cx="72.5" cy="472.6" rx="2.3" ry="1.5" fill="#000" fill-opacity="0.55" filter="url(#bl0_8)"/></g>
<path d="M72.2 472.6h0M71.8 472.6h0M74.2 473.1h0M69.3 472.7h0M74.2 471.6h0M73.4 473.3h0M70.1 470.6h0M72.3 472.0h0M70.8 470.3h0M71.5 470.8h0M71.8 472.2h0M72.7 474.1h0M70.0 470.5h0M76.3 472.1h0M72.7 476.2h0M75.2 471.5h0M72.6 472.8h0M75.8 472.1h0M73.8 474.1h0M76.2 470.2h0M68.6 471.5h0M69.1 470.9h0M70.6 472.1h0M72.4 472.1h0M71.3 472.7h0M71.4 472.8h0M71.8 473.1h0M73.0 471.9h0M72.5 471.6h0M72.4 472.3h0M71.3 470.5h0M69.9 473.7h0M72.0 469.7h0M72.3 472.1h0M68.3 473.9h0" stroke="#000" stroke-opacity="0.42" stroke-width="0.90" stroke-linecap="round" fill="none"/>
<path d="M74.3 470.0h0M74.5 471.2h0M69.2 470.2h0M72.9 473.6h0M74.7 473.8h0M69.6 473.1h0M71.6 472.7h0M70.2 472.8h0M72.6 474.8h0M75.4 475.2h0M72.9 477.2h0M73.4 469.6h0M73.3 472.7h0M73.1 472.6h0M73.0 474.8h0M73.9 471.9h0M72.4 471.8h0M73.9 475.2h0M75.4 474.2h0M76.7 472.5h0M69.3 472.5h0M73.0 472.8h0M72.2 472.6h0M74.3 469.9h0M71.5 471.6h0M75.1 472.2h0M71.9 469.4h0M71.1 473.5h0M67.6 469.7h0M73.4 472.9h0M70.0 472.3h0M69.5 469.6h0M76.0 470.9h0M70.6 469.7h0M74.6 476.0h0" stroke="#000" stroke-opacity="0.42" stroke-width="0.90" stroke-linecap="round" fill="none"/>
<path d="M67.8 496.4h0M69.2 496.8h0M72.2 494.6h0M72.5 488.1h0M70.0 497.6h0M72.6 491.3h0M70.5 489.8h0M72.2 497.9h0M68.7 497.3h0M67.9 494.3h0M67.2 498.0h0" stroke="#000" stroke-opacity="0.24" stroke-width="0.80" stroke-linecap="round" fill="none"/>
<path d="M70.0 497.1h0M71.3 496.5h0M72.3 493.2h0M70.0 493.0h0M71.1 495.2h0M68.8 498.8h0M70.5 492.0h0M69.2 498.2h0M70.9 494.7h0M66.6 493.6h0M68.6 488.9h0" stroke="#000" stroke-opacity="0.24" stroke-width="0.80" stroke-linecap="round" fill="none"/>
<path d="M39.1 461.2h0M49.1 494.7h0M35.2 463.5h0M70.9 498.7h0M43.5 472.1h0M69.4 484.3h0M72.4 487.3h0M47.1 463.4h0M35.9 484.3h0M45.1 463.5h0M83.5 482.0h0M64.5 482.6h0M64.9 484.5h0M49.9 454.1h0M37.9 451.7h0M52.9 457.9h0M40.2 474.8h0M83.8 484.1h0M48.4 488.1h0M43.5 455.8h0M49.9 470.7h0M69.5 472.4h0M71.5 455.6h0M81.9 467.5h0M76.8 452.5h0M76.6 461.9h0M77.9 489.7h0M68.6 464.4h0M35.0 460.2h0M80.5 458.6h0M68.0 479.3h0M68.1 459.7h0M41.8 455.7h0M84.4 469.5h0M67.6 478.5h0M45.8 454.1h0M35.3 492.1h0M41.1 497.4h0M53.0 485.8h0M41.5 489.0h0M47.3 468.7h0M61.1 456.4h0M47.1 489.4h0M49.0 469.4h0M73.4 461.8h0" stroke="#000" stroke-opacity="0.16" stroke-width="0.80" stroke-linecap="round" fill="none"/>
<text x="68.9" y="468" font-size="7.4" text-anchor="start" font-weight="bold" fill="#000" >11.4</text>
<text x="63.7" y="517" font-size="10.2" text-anchor="middle" font-weight="normal" fill="#0a0a0a" stroke="#111" stroke-width="0.16">CD8</text>
<line x1="19.6" y1="402.8" x2="19.6" y2="464.3" stroke="#000" stroke-width="1.7" />
<polyline points="14.7,410.1 19.6,402 24.5,410.1" fill="none" stroke="#000" stroke-width="1.7" stroke-linejoin="miter"/>
<text x="17" y="429.1" font-size="9.6" text-anchor="middle" font-weight="normal" fill="#0a0a0a" transform="rotate(-90 17 429.1)" stroke="#111" stroke-width="0.16">Ly5.1</text>
<line x1="82" y1="394.6" x2="101.5" y2="394.6" stroke="#949494" stroke-width="3.6" />
<polygon points="100.3,390.7 105,394.6 100.3,398.5" fill="#949494"/>
<line x1="83.8" y1="471.2" x2="102.5" y2="471.2" stroke="#949494" stroke-width="3.6" />
<polygon points="101.3,467.3 106,471.2 101.3,475.1" fill="#949494"/>
<line x1="100.3" y1="402.3" x2="100.3" y2="463.2" stroke="#000" stroke-width="1.6" />
<polyline points="95.7,407.9 100.3,401.5 104.9,407.9" fill="none" stroke="#000" stroke-width="1.6" stroke-linejoin="miter"/>
<text x="97" y="427.5" font-size="9.4" text-anchor="middle" font-weight="normal" fill="#0a0a0a" transform="rotate(-90 97 427.5)" stroke="#111" stroke-width="0.16">CD62L</text>
<rect x="111.5" y="370.8" width="55.8" height="51.7" fill="none" stroke="#2a2a2a" stroke-width="0.8" />
<line x1="129.5" y1="370.8" x2="129.5" y2="422.5" stroke="#666" stroke-width="0.7" />
<line x1="111.5" y1="400.3" x2="167.3" y2="400.3" stroke="#666" stroke-width="0.7" />
<text x="108.8" y="373" font-size="3.6" text-anchor="end" fill="#4a4a4a">10<tspan dy="-1.2" font-size="2.8">4</tspan></text>
<line x1="109.8" y1="371.8" x2="111.5" y2="371.8" stroke="#4a4a4a" stroke-width="0.6" />
<text x="108.8" y="385.2" font-size="3.6" text-anchor="end" fill="#4a4a4a">10<tspan dy="-1.2" font-size="2.8">3</tspan></text>
<line x1="109.8" y1="384" x2="111.5" y2="384" stroke="#4a4a4a" stroke-width="0.6" />
<text x="108.8" y="397.2" font-size="3.6" text-anchor="end" fill="#4a4a4a">10<tspan dy="-1.2" font-size="2.8">2</tspan></text>
<line x1="109.8" y1="396" x2="111.5" y2="396" stroke="#4a4a4a" stroke-width="0.6" />
<text x="108.8" y="409.2" font-size="3.6" text-anchor="end" fill="#4a4a4a">10<tspan dy="-1.2" font-size="2.8">1</tspan></text>
<line x1="109.8" y1="408" x2="111.5" y2="408" stroke="#4a4a4a" stroke-width="0.6" />
<text x="108.8" y="422.7" font-size="3.6" text-anchor="end" fill="#4a4a4a">10<tspan dy="-1.2" font-size="2.8">0</tspan></text>
<line x1="109.8" y1="421.5" x2="111.5" y2="421.5" stroke="#4a4a4a" stroke-width="0.6" />
<text x="114.3" y="428.7" font-size="3.6" text-anchor="middle" fill="#4a4a4a">10<tspan dy="-1.2" font-size="2.8">0</tspan></text>
<line x1="114" y1="422.5" x2="114" y2="424.2" stroke="#4a4a4a" stroke-width="0.6" />
<text x="126.3" y="428.7" font-size="3.6" text-anchor="middle" fill="#4a4a4a">10<tspan dy="-1.2" font-size="2.8">1</tspan></text>
<line x1="126" y1="422.5" x2="126" y2="424.2" stroke="#4a4a4a" stroke-width="0.6" />
<text x="140.3" y="428.7" font-size="3.6" text-anchor="middle" fill="#4a4a4a">10<tspan dy="-1.2" font-size="2.8">2</tspan></text>
<line x1="140" y1="422.5" x2="140" y2="424.2" stroke="#4a4a4a" stroke-width="0.6" />
<text x="152.3" y="428.7" font-size="3.6" text-anchor="middle" fill="#4a4a4a">10<tspan dy="-1.2" font-size="2.8">3</tspan></text>
<line x1="152" y1="422.5" x2="152" y2="424.2" stroke="#4a4a4a" stroke-width="0.6" />
<text x="165.3" y="428.7" font-size="3.6" text-anchor="middle" fill="#4a4a4a">10<tspan dy="-1.2" font-size="2.8">4</tspan></text>
<line x1="165" y1="422.5" x2="165" y2="424.2" stroke="#4a4a4a" stroke-width="0.6" />
<path d="M137.4 387.0h0M127.9 382.4h0M125.2 380.1h0M130.4 385.6h0M139.2 385.8h0M136.3 388.2h0M127.8 387.6h0M141.4 385.9h0M152.6 379.4h0M146.4 383.7h0M139.6 383.4h0M144.9 383.5h0M126.6 385.8h0M131.8 386.2h0M135.6 385.4h0M146.1 385.5h0M136.2 388.5h0M146.1 389.3h0M141.0 382.8h0M137.0 389.0h0M135.6 385.8h0M141.0 389.7h0M122.7 387.6h0M136.2 388.4h0M138.4 383.3h0M138.8 392.6h0M126.8 388.7h0M144.8 389.8h0M134.5 388.3h0M139.8 386.7h0M138.2 386.3h0M137.6 384.3h0M125.6 383.3h0M124.6 379.9h0" stroke="#000" stroke-opacity="0.15" stroke-width="0.84" stroke-linecap="round" fill="none"/>
<path d="M127.9 386.9h0M137.2 384.3h0M135.2 385.7h0M119.7 386.2h0M128.9 385.2h0M137.8 385.8h0M146.7 383.5h0M134.5 381.1h0M138.0 383.9h0M135.4 386.8h0M141.8 386.2h0M134.5 383.8h0M139.1 389.3h0M146.4 384.7h0M128.1 382.0h0M134.3 381.3h0M123.5 382.3h0M150.5 383.3h0M140.2 383.9h0M138.4 384.3h0M129.9 385.6h0M114.5 381.4h0M159.3 385.6h0M129.9 383.6h0M146.0 385.0h0M130.5 387.8h0M144.6 385.4h0M148.7 385.0h0M120.4 383.2h0M153.5 390.2h0M121.9 384.4h0M135.6 386.8h0M117.4 388.4h0M142.6 384.4h0" stroke="#000" stroke-opacity="0.15" stroke-width="0.84" stroke-linecap="round" fill="none"/>
<path d="M147.7 410.9h0M141.2 412.3h0M155.8 410.7h0M148.4 407.6h0M144.4 413.5h0M145.4 405.9h0M155.2 414.9h0M137.8 409.8h0M128.1 411.3h0M133.6 409.6h0M149.1 412.2h0M137.0 410.5h0M140.9 415.2h0M122.8 416.1h0M139.3 409.2h0M143.9 413.5h0M144.2 412.4h0M149.3 413.9h0M132.3 415.7h0M138.5 412.1h0M126.0 417.6h0M132.9 408.7h0M144.5 416.8h0M144.7 408.3h0M135.5 410.9h0M139.0 409.6h0M145.7 416.1h0M138.8 416.7h0" stroke="#000" stroke-opacity="0.15" stroke-width="0.84" stroke-linecap="round" fill="none"/>
<path d="M156.8 414.1h0M138.4 414.4h0M131.4 413.8h0M134.5 409.0h0M134.2 408.7h0M145.1 411.5h0M135.4 411.2h0M140.6 414.9h0M151.8 414.2h0M133.3 407.3h0M134.5 407.8h0M153.6 410.6h0M145.3 411.5h0M144.7 410.7h0M132.9 407.6h0M141.4 414.3h0M133.1 413.7h0M149.8 410.6h0M135.4 412.7h0M137.9 410.4h0M141.6 406.3h0M134.2 404.5h0M138.1 414.2h0M149.6 407.0h0M149.9 412.3h0M140.7 412.1h0M145.8 412.1h0" stroke="#000" stroke-opacity="0.15" stroke-width="0.84" stroke-linecap="round" fill="none"/>
<text x="113.7" y="378" font-size="7.3" text-anchor="start" font-weight="bold" fill="#000" >19.9</text>
<text x="165.6" y="378" font-size="7.3" text-anchor="end" font-weight="bold" fill="#000" >37.9</text>
<text x="113.7" y="421" font-size="7.3" text-anchor="start" font-weight="bold" fill="#000" >10.4</text>
<text x="165.6" y="421" font-size="7.3" text-anchor="end" font-weight="bold" fill="#000" >31.8</text>
<rect x="113.3" y="448.8" width="54.8" height="51.7" fill="none" stroke="#2a2a2a" stroke-width="0.8" />
<line x1="130.4" y1="448.8" x2="130.4" y2="500.5" stroke="#666" stroke-width="0.7" />
<line x1="113.3" y1="478.4" x2="168.1" y2="478.4" stroke="#666" stroke-width="0.7" />
<text x="110.6" y="451" font-size="3.6" text-anchor="end" fill="#4a4a4a">10<tspan dy="-1.2" font-size="2.8">4</tspan></text>
<line x1="111.6" y1="449.8" x2="113.3" y2="449.8" stroke="#4a4a4a" stroke-width="0.6" />
<text x="110.6" y="462.2" font-size="3.6" text-anchor="end" fill="#4a4a4a">10<tspan dy="-1.2" font-size="2.8">3</tspan></text>
<line x1="111.6" y1="461" x2="113.3" y2="461" stroke="#4a4a4a" stroke-width="0.6" />
<text x="110.6" y="474.2" font-size="3.6" text-anchor="end" fill="#4a4a4a">10<tspan dy="-1.2" font-size="2.8">2</tspan></text>
<line x1="111.6" y1="473" x2="113.3" y2="473" stroke="#4a4a4a" stroke-width="0.6" />
<text x="110.6" y="487.2" font-size="3.6" text-anchor="end" fill="#4a4a4a">10<tspan dy="-1.2" font-size="2.8">1</tspan></text>
<line x1="111.6" y1="486" x2="113.3" y2="486" stroke="#4a4a4a" stroke-width="0.6" />
<text x="110.6" y="500.7" font-size="3.6" text-anchor="end" fill="#4a4a4a">10<tspan dy="-1.2" font-size="2.8">0</tspan></text>
<line x1="111.6" y1="499.5" x2="113.3" y2="499.5" stroke="#4a4a4a" stroke-width="0.6" />
<text x="115.3" y="506.7" font-size="3.6" text-anchor="middle" fill="#4a4a4a">10<tspan dy="-1.2" font-size="2.8">0</tspan></text>
<line x1="115" y1="500.5" x2="115" y2="502.2" stroke="#4a4a4a" stroke-width="0.6" />
<text x="128.3" y="506.7" font-size="3.6" text-anchor="middle" fill="#4a4a4a">10<tspan dy="-1.2" font-size="2.8">1</tspan></text>
<line x1="128" y1="500.5" x2="128" y2="502.2" stroke="#4a4a4a" stroke-width="0.6" />
<text x="141.3" y="506.7" font-size="3.6" text-anchor="middle" fill="#4a4a4a">10<tspan dy="-1.2" font-size="2.8">2</tspan></text>
<line x1="141" y1="500.5" x2="141" y2="502.2" stroke="#4a4a4a" stroke-width="0.6" />
<text x="154.3" y="506.7" font-size="3.6" text-anchor="middle" fill="#4a4a4a">10<tspan dy="-1.2" font-size="2.8">3</tspan></text>
<line x1="154" y1="500.5" x2="154" y2="502.2" stroke="#4a4a4a" stroke-width="0.6" />
<text x="167.3" y="506.7" font-size="3.6" text-anchor="middle" fill="#4a4a4a">10<tspan dy="-1.2" font-size="2.8">4</tspan></text>
<line x1="167" y1="500.5" x2="167" y2="502.2" stroke="#4a4a4a" stroke-width="0.6" />
<path d="M138.8 463.0h0M142.0 462.8h0M133.0 465.1h0M140.5 463.3h0M127.1 460.6h0M135.9 461.0h0M147.4 461.8h0M133.9 461.0h0M141.7 459.2h0M142.1 466.2h0M137.5 464.0h0M140.8 464.1h0M132.5 461.8h0M122.9 462.3h0M138.4 464.8h0M122.4 459.9h0M133.3 461.5h0M139.3 458.9h0M139.1 461.2h0M148.6 464.0h0M131.9 462.9h0M131.2 463.3h0M128.5 462.7h0M137.7 462.0h0M130.2 463.2h0M132.7 465.3h0M130.2 464.7h0M133.9 462.3h0M136.6 463.6h0M143.9 464.8h0M150.6 464.5h0M144.7 464.1h0M144.0 463.6h0M139.7 463.5h0M139.7 461.8h0M129.7 463.9h0M141.4 462.8h0M152.2 460.0h0M131.1 461.9h0M136.5 461.8h0M149.9 465.5h0M136.7 465.5h0M141.8 461.5h0M133.8 464.2h0M144.7 460.8h0M121.9 460.1h0M146.7 459.7h0M131.1 464.5h0M139.8 467.8h0M148.5 460.6h0M146.2 456.7h0M139.7 461.4h0M139.6 462.0h0M140.6 461.2h0M140.6 462.2h0M131.2 460.1h0M127.5 462.3h0M140.7 458.6h0M137.0 464.0h0M138.9 461.5h0M136.7 461.5h0M144.2 457.8h0M145.0 461.5h0M130.1 467.1h0M122.6 460.8h0" stroke="#000" stroke-opacity="0.19" stroke-width="0.84" stroke-linecap="round" fill="none"/>
<path d="M152.8 466.4h0M131.4 465.3h0M130.1 463.2h0M139.1 463.8h0M135.7 466.9h0M131.2 463.1h0M141.9 463.4h0M135.7 461.4h0M146.9 464.6h0M142.3 459.3h0M131.0 460.6h0M133.3 462.5h0M136.5 465.3h0M151.2 463.7h0M128.2 460.4h0M139.2 464.8h0M140.5 464.3h0M132.2 457.6h0M131.2 466.2h0M139.4 463.4h0M153.8 461.1h0M144.8 464.8h0M134.7 460.4h0M145.1 463.9h0M133.9 461.6h0M133.4 459.3h0M155.8 460.7h0M124.7 463.9h0M156.6 462.4h0M131.4 461.7h0M138.3 460.7h0M156.2 466.2h0M137.5 461.8h0M142.7 465.3h0M144.1 466.3h0M141.8 464.1h0M136.1 466.6h0M114.8 463.9h0M123.1 463.8h0M144.9 468.2h0M133.4 464.4h0M142.1 462.9h0M143.9 466.2h0M122.4 465.0h0M152.2 463.2h0M144.6 462.4h0M136.1 465.1h0M133.9 463.7h0M126.2 464.7h0M137.7 467.9h0M134.9 459.3h0M132.1 461.2h0M129.1 462.5h0M146.7 459.5h0M150.8 461.6h0M154.4 464.3h0M128.6 466.3h0M138.8 465.0h0M136.0 463.4h0M140.0 463.4h0M128.1 463.5h0M132.3 465.9h0M148.8 460.9h0M133.2 462.5h0M126.7 462.7h0" stroke="#000" stroke-opacity="0.19" stroke-width="0.84" stroke-linecap="round" fill="none"/>
<path d="M120.7 491.6h0M130.1 490.8h0M147.6 492.9h0M123.4 490.6h0M120.3 488.3h0M137.3 493.1h0M153.6 483.8h0M130.4 483.4h0M128.8 492.6h0M123.1 489.0h0M145.3 489.0h0M143.6 487.3h0M123.3 493.3h0M117.9 488.9h0M116.5 488.6h0M125.2 485.7h0M134.6 491.0h0M131.5 489.2h0M132.3 484.9h0M130.1 488.8h0M138.2 492.2h0M132.0 485.2h0M137.3 488.6h0M137.6 489.5h0M140.6 491.2h0M128.0 492.7h0M139.4 491.2h0M138.0 490.5h0M131.2 491.7h0M115.0 491.5h0M129.8 489.3h0M136.5 489.9h0M128.9 490.3h0M132.1 486.7h0M134.2 488.9h0M128.1 491.8h0M128.9 489.9h0M133.2 482.9h0M143.4 485.4h0M124.7 494.1h0" stroke="#000" stroke-opacity="0.17" stroke-width="0.84" stroke-linecap="round" fill="none"/>
<path d="M132.2 487.5h0M146.9 488.0h0M145.4 489.7h0M131.8 489.5h0M136.8 486.7h0M136.8 487.3h0M127.8 490.0h0M137.0 491.0h0M138.9 491.9h0M147.5 493.9h0M136.4 487.5h0M136.0 484.0h0M135.5 489.5h0M151.1 485.4h0M130.9 488.5h0M125.4 490.6h0M126.6 490.4h0M142.3 489.1h0M135.5 490.9h0M121.2 485.7h0M132.6 484.9h0M132.8 493.7h0M143.1 488.1h0M138.5 485.4h0M117.1 482.4h0M135.2 490.7h0M130.0 487.6h0M139.5 489.8h0M138.7 491.6h0M115.8 489.5h0M131.3 488.2h0M128.7 482.8h0M128.4 490.1h0M144.2 493.1h0M142.6 485.7h0M142.1 487.8h0M123.9 487.8h0M139.7 490.9h0M124.8 487.0h0M127.3 488.2h0" stroke="#000" stroke-opacity="0.17" stroke-width="0.84" stroke-linecap="round" fill="none"/>
<text x="116.2" y="456" font-size="7.3" text-anchor="start" font-weight="bold" fill="#000" >22.2</text>
<text x="166.2" y="456" font-size="7.3" text-anchor="end" font-weight="bold" fill="#000" >44.6</text>
<text x="115.2" y="499" font-size="7.3" text-anchor="start" font-weight="bold" fill="#000" >13.7</text>
<text x="166.6" y="499" font-size="7.3" text-anchor="end" font-weight="bold" fill="#000" >19.6</text>
<text x="143.5" y="517" font-size="10.2" text-anchor="middle" font-weight="normal" fill="#0a0a0a" stroke="#111" stroke-width="0.16">CD44</text>
<line x1="220.5" y1="371.9" x2="220.5" y2="484.4" stroke="#808080" stroke-width="1" />
<text x="211.9" y="507" font-size="10" text-anchor="end" font-weight="normal" fill="#383838" >-0.1</text>
<line x1="217.9" y1="484.4" x2="220.5" y2="484.4" stroke="#808080" stroke-width="1" />
<text x="211.9" y="488" font-size="10" text-anchor="end" font-weight="normal" fill="#383838" >0.0</text>
<line x1="217.9" y1="465.65" x2="220.5" y2="465.65" stroke="#808080" stroke-width="1" />
<text x="211.9" y="469" font-size="10" text-anchor="end" font-weight="normal" fill="#383838" >0.1</text>
<line x1="217.9" y1="446.9" x2="220.5" y2="446.9" stroke="#808080" stroke-width="1" />
<text x="211.9" y="450" font-size="10" text-anchor="end" font-weight="normal" fill="#383838" >0.2</text>
<line x1="217.9" y1="428.15" x2="220.5" y2="428.15" stroke="#808080" stroke-width="1" />
<text x="211.9" y="432" font-size="10" text-anchor="end" font-weight="normal" fill="#383838" >0.3</text>
<line x1="217.9" y1="409.4" x2="220.5" y2="409.4" stroke="#808080" stroke-width="1" />
<text x="211.9" y="413" font-size="10" text-anchor="end" font-weight="normal" fill="#383838" >0.4</text>
<line x1="217.9" y1="390.65" x2="220.5" y2="390.65" stroke="#808080" stroke-width="1" />
<text x="211.9" y="394" font-size="10" text-anchor="end" font-weight="normal" fill="#383838" >0.5</text>
<line x1="217.9" y1="371.9" x2="220.5" y2="371.9" stroke="#808080" stroke-width="1" />
<text x="211.9" y="375" font-size="10" text-anchor="end" font-weight="normal" fill="#383838" >0.6</text>
<line x1="220.5" y1="484.4" x2="318.8" y2="484.4" stroke="#808080" stroke-width="1" />
<line x1="269.2" y1="484.4" x2="269.2" y2="487.2" stroke="#808080" stroke-width="1" />
<line x1="318.8" y1="484.4" x2="318.8" y2="487.2" stroke="#808080" stroke-width="1" />
<text x="190" y="444.6" font-size="10" text-anchor="middle" font-weight="normal" fill="#4d4d4d" transform="rotate(-90 190 444.6)" >No of &#160;CD8 cells (K/uL)</text>
<rect x="231" y="428.6" width="13.8" height="55.8" fill="#fff" stroke="#4a4a4a" stroke-width="0.8" />
<rect x="244.8" y="432.7" width="13.8" height="51.7" fill="#000" stroke="none" stroke-width="1" />
<line x1="237.7" y1="411.3" x2="237.7" y2="447" stroke="#000" stroke-width="1.25" />
<line x1="235.2" y1="411.3" x2="240.2" y2="411.3" stroke="#000" stroke-width="1.25" />
<line x1="235.2" y1="447" x2="240.2" y2="447" stroke="#000" stroke-width="1.25" />
<line x1="251.7" y1="421" x2="251.7" y2="432.7" stroke="#000" stroke-width="1.25" />
<line x1="249.2" y1="421" x2="254.2" y2="421" stroke="#000" stroke-width="1.25" />
<line x1="249.2" y1="432.7" x2="254.2" y2="432.7" stroke="#000" stroke-width="1.25" />
<rect x="280.6" y="425.7" width="13.4" height="58.7" fill="#fff" stroke="#4a4a4a" stroke-width="0.8" />
<rect x="294" y="447" width="13.9" height="37.4" fill="#000" stroke="none" stroke-width="1" />
<line x1="287.1" y1="418.3" x2="287.1" y2="433.9" stroke="#000" stroke-width="1.25" />
<line x1="284.6" y1="418.3" x2="289.6" y2="418.3" stroke="#000" stroke-width="1.25" />
<line x1="284.6" y1="433.9" x2="289.6" y2="433.9" stroke="#000" stroke-width="1.25" />
<line x1="300.95" y1="439.4" x2="300.95" y2="447" stroke="#000" stroke-width="1.25" />
<line x1="298.45" y1="439.4" x2="303.45" y2="439.4" stroke="#000" stroke-width="1.25" />
<line x1="298.45" y1="447" x2="303.45" y2="447" stroke="#000" stroke-width="1.25" />
<rect x="236.4" y="377.5" width="4.6" height="4.6" fill="#fff" stroke="#222" stroke-width="0.8" />
<text x="242.8" y="383" font-size="10" text-anchor="start" font-weight="normal" fill="#383838" >WT</text>
<rect x="236" y="395.3" width="5.4" height="5.4" fill="#000" stroke="none" stroke-width="1" />
<text x="241.9" y="401" font-size="10" text-anchor="start" font-weight="normal" fill="#383838" >Lin28b</text>
<text x="226.9" y="504" font-size="12.4" text-anchor="start" font-weight="normal" fill="#0a0a0a" stroke="#111" stroke-width="0.16">CD62L</text>
<text x="226.9" y="519" font-size="12.4" text-anchor="start" font-weight="normal" fill="#0a0a0a" stroke="#111" stroke-width="0.16">CD44-</text>
<text x="271.6" y="504" font-size="12.4" text-anchor="start" font-weight="normal" fill="#0a0a0a" stroke="#111" stroke-width="0.16">CD62L-</text>
<text x="271.6" y="519" font-size="12.4" text-anchor="start" font-weight="normal" fill="#0a0a0a" stroke="#111" stroke-width="0.16">CD44+</text>
</svg>
</body></html>
